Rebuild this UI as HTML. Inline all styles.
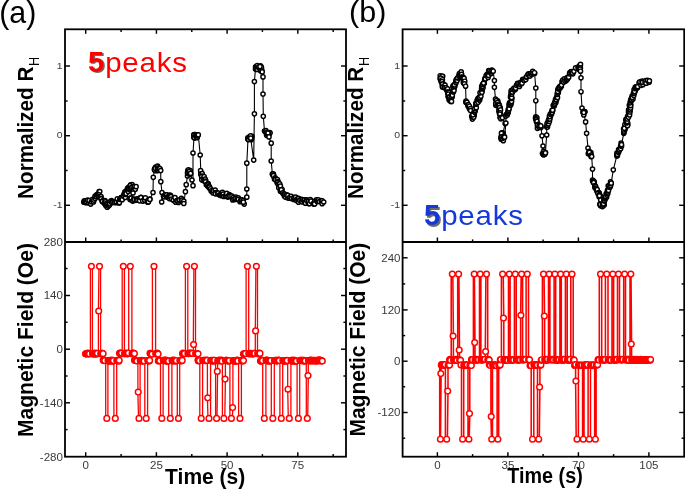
<!DOCTYPE html>
<html><head><meta charset="utf-8"><title>Figure</title>
<style>html,body{margin:0;padding:0;background:#fff}svg{display:block}</style></head>
<body>
<svg width="685" height="489" viewBox="0 0 685 489" font-family='"Liberation Sans", sans-serif'>
<defs><filter id="sh" x="-30%" y="-30%" width="170%" height="170%"><feGaussianBlur stdDeviation="0.7"/></filter></defs>
<rect width="685" height="489" fill="#fff"/>
<path d="M83.8,202.2 L84.3,200.9 L85.5,200.8 L86.1,202.4 L86.0,202.7 L86.8,201.9 L87.6,200.0 L88.9,203.0 L89.1,200.5 L90.7,204.1 L91.4,201.8 L92.8,200.4 L93.2,200.8 L92.6,199.3 L93.5,201.9 L93.9,200.1 L95.2,198.4 L95.5,196.3 L95.1,196.2 L96.5,196.5 L96.3,196.5 L97.0,194.5 L97.9,195.6 L97.5,194.4 L98.3,195.0 L99.1,191.6 L99.8,191.6 L99.1,195.4 L99.0,194.9 L99.1,196.6 L100.6,196.9 L101.0,196.5 L101.0,198.6 L101.1,198.8 L102.3,201.5 L102.5,200.8 L102.5,201.4 L104.2,203.3 L105.0,200.7 L104.8,203.1 L104.7,202.8 L105.4,201.8 L105.7,205.4 L106.3,203.7 L107.2,207.2 L107.2,204.6 L108.5,205.9 L109.5,205.1 L109.1,202.3 L109.8,203.8 L111.5,200.6 L111.0,201.3 L111.8,202.7 L113.1,201.9 L113.0,202.2 L114.4,202.5 L116.1,202.7 L116.2,201.9 L117.3,198.9 L118.4,202.5 L119.1,202.9 L119.1,201.3 L119.4,202.6 L119.8,199.3 L120.5,199.1 L121.2,197.9 L121.2,197.7 L121.9,198.0 L122.2,199.7 L123.6,195.7 L123.5,195.9 L124.1,194.1 L125.3,197.4 L125.1,194.4 L124.9,191.9 L125.7,191.9 L127.0,190.7 L126.1,193.6 L127.3,189.2 L127.8,188.0 L128.2,191.6 L129.2,189.6 L128.6,187.4 L129.1,188.7 L130.4,188.1 L130.7,184.9 L134.9,188.4 L135.1,187.7 L134.9,187.5 L131.4,186.6 L132.1,184.6 L130.2,185.6 L131.6,187.3 L133.0,186.5 L134.5,186.5 L135.3,189.3 L136.1,186.7 L133.0,193.0 L130.0,199.6 L130.4,198.2 L131.1,198.0 L132.6,201.1 L133.7,199.0 L134.2,200.4 L134.2,199.7 L136.3,200.2 L136.9,198.8 L136.8,200.2 L137.9,200.2 L139.7,198.3 L139.6,200.8 L141.0,197.4 L140.9,197.5 L143.0,200.8 L142.7,201.1 L144.9,200.5 L144.8,200.2 L145.3,197.8 L147.5,200.8 L147.7,202.2 L148.4,202.0 L149.9,199.0 L149.9,199.4 L153.0,192.5 L153.3,177.3 L154.5,169.0 L154.8,168.6 L155.6,167.1 L155.3,170.6 L156.6,168.3 L158.0,170.5 L157.0,170.6 L157.5,168.7 L157.6,166.1 L157.1,166.9 L154.5,170.0 L155.5,168.4 L157.5,168.5 L158.7,168.6 L158.9,168.3 L160.1,169.3 L159.5,169.1 L159.8,168.7 L160.7,170.6 L160.8,181.7 L162.0,192.5 L161.7,202.0 L163.5,196.0 L164.2,196.8 L165.4,194.9 L165.6,194.8 L166.0,195.2 L166.6,194.9 L167.3,197.2 L168.3,197.4 L169.4,195.0 L169.4,198.6 L170.5,195.3 L170.2,197.1 L170.9,196.6 L171.7,199.0 L173.7,200.4 L173.4,200.0 L175.0,197.7 L176.1,201.9 L175.8,202.2 L176.8,200.5 L178.5,202.4 L177.9,201.0 L179.3,200.3 L179.6,199.9 L181.4,198.3 L182.0,200.4 L182.0,200.1 L183.8,201.2 L183.8,203.5 L185.4,191.7 L186.2,184.7 L187.5,176.0 L190.2,174.1 L187.8,170.5 L187.5,173.1 L188.4,169.8 L188.9,173.8 L190.3,170.5 L189.2,171.7 L189.3,174.0 L190.6,173.4 L192.0,180.0 L193.0,185.7 L193.0,153.0 L194.0,137.5 L193.9,134.9 L195.4,136.0 L194.9,137.8 L197.3,137.2 L194.2,137.4 L194.1,137.5 L196.2,135.4 L196.8,137.7 L195.2,134.5 L196.7,135.0 L194.3,134.6 L194.0,134.8 L195.4,135.2 L196.5,136.0 L197.6,135.4 L197.8,135.2 L198.3,134.8 L200.2,155.0 L200.8,172.0 L200.6,170.6 L201.5,173.9 L200.8,174.5 L202.2,173.6 L202.2,176.0 L201.8,178.7 L201.8,178.0 L204.3,180.9 L202.9,180.2 L204.3,179.2 L203.1,177.7 L201.7,176.6 L201.8,179.7 L203.5,178.5 L204.1,176.5 L204.1,180.4 L205.7,180.4 L205.1,179.2 L205.4,181.0 L205.5,181.8 L206.3,184.8 L208.1,183.5 L207.6,186.1 L208.0,184.1 L207.9,185.0 L209.0,186.3 L208.9,187.0 L208.9,186.7 L209.3,188.1 L209.6,187.1 L210.4,188.8 L211.1,190.9 L212.3,191.8 L213.1,193.0 L213.4,190.7 L215.2,190.2 L215.6,192.7 L215.4,193.8 L217.6,193.1 L218.2,194.2 L218.1,193.2 L219.5,194.9 L220.8,195.1 L221.3,195.7 L222.3,195.0 L222.4,192.3 L223.1,194.1 L223.8,196.5 L225.3,195.8 L226.2,196.3 L226.7,193.4 L228.0,197.1 L228.2,196.4 L229.3,194.5 L230.2,195.7 L230.0,196.1 L231.9,196.1 L232.7,200.0 L233.2,197.6 L234.0,199.3 L235.3,199.4 L235.9,197.2 L235.9,198.4 L237.7,198.9 L238.3,197.9 L238.3,199.4 L240.0,201.7 L240.8,200.1 L241.3,201.2 L241.9,199.8 L243.3,200.5 L244.2,204.1 L243.4,202.2 L246.8,197.2 L246.8,189.0 L246.8,163.2 L248.0,139.0 L251.3,139.7 L249.4,136.9 L248.2,139.6 L248.3,138.1 L247.9,137.9 L252.0,136.3 L251.3,137.8 L251.6,138.6 L248.4,139.4 L249.7,137.8 L250.6,135.8 L250.7,138.2 L253.7,160.1 L254.4,113.8 L254.4,81.5 L255.5,69.0 L255.8,67.4 L255.6,66.8 L256.3,68.4 L256.1,67.3 L260.5,65.8 L261.1,68.4 L260.9,66.6 L257.7,67.0 L261.5,67.9 L257.7,67.2 L257.2,65.5 L256.1,69.0 L257.2,69.4 L258.5,67.5 L258.8,66.7 L260.0,66.6 L260.5,70.8 L261.9,70.8 L262.2,71.9 L263.0,76.9 L263.0,94.0 L263.3,116.3 L264.5,131.0 L265.7,132.1 L265.9,130.6 L266.4,133.3 L268.9,134.8 L266.5,132.2 L269.7,132.6 L267.5,133.5 L266.6,135.3 L270.0,133.1 L268.4,133.3 L267.9,133.7 L267.6,134.2 L268.0,133.0 L269.0,136.9 L271.2,143.2 L271.2,161.0 L272.4,174.2 L273.5,174.6 L274.7,178.5 L273.3,174.2 L272.6,174.0 L273.0,174.0 L273.5,176.0 L273.5,175.7 L274.5,179.3 L275.2,177.9 L275.2,179.2 L275.6,179.1 L275.5,179.6 L277.4,179.6 L277.1,182.7 L278.1,181.6 L277.6,182.5 L278.2,184.2 L279.5,186.8 L279.7,183.8 L278.7,187.8 L280.5,187.5 L280.4,186.1 L280.4,191.2 L281.5,191.6 L282.1,189.6 L281.3,189.9 L282.6,192.9 L283.9,193.8 L284.0,194.6 L284.4,194.2 L284.4,195.9 L285.3,197.1 L286.6,194.9 L286.5,195.3 L287.9,197.9 L287.9,195.4 L289.4,198.2 L290.0,197.0 L291.2,196.4 L291.6,198.5 L293.5,199.4 L294.2,198.6 L294.1,197.5 L296.0,199.9 L295.7,197.1 L296.7,200.4 L297.4,198.8 L298.5,202.2 L298.6,198.4 L299.6,200.2 L301.0,199.3 L302.0,201.8 L302.3,199.5 L303.9,200.1 L304.5,199.8 L304.4,202.3 L305.4,203.2 L306.6,199.8 L307.0,200.9 L308.6,203.4 L308.6,200.9 L309.5,203.7 L310.3,199.5 L311.0,201.2 L313.2,203.5 L313.8,204.1 L315.0,201.1 L314.6,203.9 L316.4,199.8 L317.2,201.5 L317.6,201.3 L318.2,199.8 L319.2,201.5 L321.2,200.5 L322.1,200.9 L322.1,203.7 L323.7,202.0" fill="none" stroke="#000" stroke-width="1.1" stroke-linejoin="round"/>
<g fill="#fff" stroke="#000" stroke-width="1.45">
<circle cx="83.8" cy="202.2" r="2.1"/>
<circle cx="84.3" cy="200.9" r="2.1"/>
<circle cx="85.5" cy="200.8" r="2.1"/>
<circle cx="86.1" cy="202.4" r="2.1"/>
<circle cx="86.0" cy="202.7" r="2.1"/>
<circle cx="86.8" cy="201.9" r="2.1"/>
<circle cx="87.6" cy="200.0" r="2.1"/>
<circle cx="88.9" cy="203.0" r="2.1"/>
<circle cx="89.1" cy="200.5" r="2.1"/>
<circle cx="90.7" cy="204.1" r="2.1"/>
<circle cx="91.4" cy="201.8" r="2.1"/>
<circle cx="92.8" cy="200.4" r="2.1"/>
<circle cx="93.2" cy="200.8" r="2.1"/>
<circle cx="92.6" cy="199.3" r="2.1"/>
<circle cx="93.5" cy="201.9" r="2.1"/>
<circle cx="93.9" cy="200.1" r="2.1"/>
<circle cx="95.2" cy="198.4" r="2.1"/>
<circle cx="95.5" cy="196.3" r="2.1"/>
<circle cx="95.1" cy="196.2" r="2.1"/>
<circle cx="96.5" cy="196.5" r="2.1"/>
<circle cx="96.3" cy="196.5" r="2.1"/>
<circle cx="97.0" cy="194.5" r="2.1"/>
<circle cx="97.9" cy="195.6" r="2.1"/>
<circle cx="97.5" cy="194.4" r="2.1"/>
<circle cx="98.3" cy="195.0" r="2.1"/>
<circle cx="99.1" cy="191.6" r="2.1"/>
<circle cx="99.8" cy="191.6" r="2.1"/>
<circle cx="99.1" cy="195.4" r="2.1"/>
<circle cx="99.0" cy="194.9" r="2.1"/>
<circle cx="99.1" cy="196.6" r="2.1"/>
<circle cx="100.6" cy="196.9" r="2.1"/>
<circle cx="101.0" cy="196.5" r="2.1"/>
<circle cx="101.0" cy="198.6" r="2.1"/>
<circle cx="101.1" cy="198.8" r="2.1"/>
<circle cx="102.3" cy="201.5" r="2.1"/>
<circle cx="102.5" cy="200.8" r="2.1"/>
<circle cx="102.5" cy="201.4" r="2.1"/>
<circle cx="104.2" cy="203.3" r="2.1"/>
<circle cx="105.0" cy="200.7" r="2.1"/>
<circle cx="104.8" cy="203.1" r="2.1"/>
<circle cx="104.7" cy="202.8" r="2.1"/>
<circle cx="105.4" cy="201.8" r="2.1"/>
<circle cx="105.7" cy="205.4" r="2.1"/>
<circle cx="106.3" cy="203.7" r="2.1"/>
<circle cx="107.2" cy="207.2" r="2.1"/>
<circle cx="107.2" cy="204.6" r="2.1"/>
<circle cx="108.5" cy="205.9" r="2.1"/>
<circle cx="109.5" cy="205.1" r="2.1"/>
<circle cx="109.1" cy="202.3" r="2.1"/>
<circle cx="109.8" cy="203.8" r="2.1"/>
<circle cx="111.5" cy="200.6" r="2.1"/>
<circle cx="111.0" cy="201.3" r="2.1"/>
<circle cx="111.8" cy="202.7" r="2.1"/>
<circle cx="113.1" cy="201.9" r="2.1"/>
<circle cx="113.0" cy="202.2" r="2.1"/>
<circle cx="114.4" cy="202.5" r="2.1"/>
<circle cx="116.1" cy="202.7" r="2.1"/>
<circle cx="116.2" cy="201.9" r="2.1"/>
<circle cx="117.3" cy="198.9" r="2.1"/>
<circle cx="118.4" cy="202.5" r="2.1"/>
<circle cx="119.1" cy="202.9" r="2.1"/>
<circle cx="119.1" cy="201.3" r="2.1"/>
<circle cx="119.4" cy="202.6" r="2.1"/>
<circle cx="119.8" cy="199.3" r="2.1"/>
<circle cx="120.5" cy="199.1" r="2.1"/>
<circle cx="121.2" cy="197.9" r="2.1"/>
<circle cx="121.2" cy="197.7" r="2.1"/>
<circle cx="121.9" cy="198.0" r="2.1"/>
<circle cx="122.2" cy="199.7" r="2.1"/>
<circle cx="123.6" cy="195.7" r="2.1"/>
<circle cx="123.5" cy="195.9" r="2.1"/>
<circle cx="124.1" cy="194.1" r="2.1"/>
<circle cx="125.3" cy="197.4" r="2.1"/>
<circle cx="125.1" cy="194.4" r="2.1"/>
<circle cx="124.9" cy="191.9" r="2.1"/>
<circle cx="125.7" cy="191.9" r="2.1"/>
<circle cx="127.0" cy="190.7" r="2.1"/>
<circle cx="126.1" cy="193.6" r="2.1"/>
<circle cx="127.3" cy="189.2" r="2.1"/>
<circle cx="127.8" cy="188.0" r="2.1"/>
<circle cx="128.2" cy="191.6" r="2.1"/>
<circle cx="129.2" cy="189.6" r="2.1"/>
<circle cx="128.6" cy="187.4" r="2.1"/>
<circle cx="129.1" cy="188.7" r="2.1"/>
<circle cx="130.4" cy="188.1" r="2.1"/>
<circle cx="130.7" cy="184.9" r="2.1"/>
<circle cx="134.9" cy="188.4" r="2.1"/>
<circle cx="135.1" cy="187.7" r="2.1"/>
<circle cx="134.9" cy="187.5" r="2.1"/>
<circle cx="131.4" cy="186.6" r="2.1"/>
<circle cx="132.1" cy="184.6" r="2.1"/>
<circle cx="130.2" cy="185.6" r="2.1"/>
<circle cx="131.6" cy="187.3" r="2.1"/>
<circle cx="133.0" cy="186.5" r="2.1"/>
<circle cx="134.5" cy="186.5" r="2.1"/>
<circle cx="135.3" cy="189.3" r="2.1"/>
<circle cx="136.1" cy="186.7" r="2.1"/>
<circle cx="133.0" cy="193.0" r="2.1"/>
<circle cx="130.0" cy="199.6" r="2.1"/>
<circle cx="130.4" cy="198.2" r="2.1"/>
<circle cx="131.1" cy="198.0" r="2.1"/>
<circle cx="132.6" cy="201.1" r="2.1"/>
<circle cx="133.7" cy="199.0" r="2.1"/>
<circle cx="134.2" cy="200.4" r="2.1"/>
<circle cx="134.2" cy="199.7" r="2.1"/>
<circle cx="136.3" cy="200.2" r="2.1"/>
<circle cx="136.9" cy="198.8" r="2.1"/>
<circle cx="136.8" cy="200.2" r="2.1"/>
<circle cx="137.9" cy="200.2" r="2.1"/>
<circle cx="139.7" cy="198.3" r="2.1"/>
<circle cx="139.6" cy="200.8" r="2.1"/>
<circle cx="141.0" cy="197.4" r="2.1"/>
<circle cx="140.9" cy="197.5" r="2.1"/>
<circle cx="143.0" cy="200.8" r="2.1"/>
<circle cx="142.7" cy="201.1" r="2.1"/>
<circle cx="144.9" cy="200.5" r="2.1"/>
<circle cx="144.8" cy="200.2" r="2.1"/>
<circle cx="145.3" cy="197.8" r="2.1"/>
<circle cx="147.5" cy="200.8" r="2.1"/>
<circle cx="147.7" cy="202.2" r="2.1"/>
<circle cx="148.4" cy="202.0" r="2.1"/>
<circle cx="149.9" cy="199.0" r="2.1"/>
<circle cx="149.9" cy="199.4" r="2.1"/>
<circle cx="153.0" cy="192.5" r="2.1"/>
<circle cx="153.3" cy="177.3" r="2.1"/>
<circle cx="154.5" cy="169.0" r="2.1"/>
<circle cx="154.8" cy="168.6" r="2.1"/>
<circle cx="155.6" cy="167.1" r="2.1"/>
<circle cx="155.3" cy="170.6" r="2.1"/>
<circle cx="156.6" cy="168.3" r="2.1"/>
<circle cx="158.0" cy="170.5" r="2.1"/>
<circle cx="157.0" cy="170.6" r="2.1"/>
<circle cx="157.5" cy="168.7" r="2.1"/>
<circle cx="157.6" cy="166.1" r="2.1"/>
<circle cx="157.1" cy="166.9" r="2.1"/>
<circle cx="154.5" cy="170.0" r="2.1"/>
<circle cx="155.5" cy="168.4" r="2.1"/>
<circle cx="157.5" cy="168.5" r="2.1"/>
<circle cx="158.7" cy="168.6" r="2.1"/>
<circle cx="158.9" cy="168.3" r="2.1"/>
<circle cx="160.1" cy="169.3" r="2.1"/>
<circle cx="159.5" cy="169.1" r="2.1"/>
<circle cx="159.8" cy="168.7" r="2.1"/>
<circle cx="160.7" cy="170.6" r="2.1"/>
<circle cx="160.8" cy="181.7" r="2.1"/>
<circle cx="162.0" cy="192.5" r="2.1"/>
<circle cx="161.7" cy="202.0" r="2.1"/>
<circle cx="163.5" cy="196.0" r="2.1"/>
<circle cx="164.2" cy="196.8" r="2.1"/>
<circle cx="165.4" cy="194.9" r="2.1"/>
<circle cx="165.6" cy="194.8" r="2.1"/>
<circle cx="166.0" cy="195.2" r="2.1"/>
<circle cx="166.6" cy="194.9" r="2.1"/>
<circle cx="167.3" cy="197.2" r="2.1"/>
<circle cx="168.3" cy="197.4" r="2.1"/>
<circle cx="169.4" cy="195.0" r="2.1"/>
<circle cx="169.4" cy="198.6" r="2.1"/>
<circle cx="170.5" cy="195.3" r="2.1"/>
<circle cx="170.2" cy="197.1" r="2.1"/>
<circle cx="170.9" cy="196.6" r="2.1"/>
<circle cx="171.7" cy="199.0" r="2.1"/>
<circle cx="173.7" cy="200.4" r="2.1"/>
<circle cx="173.4" cy="200.0" r="2.1"/>
<circle cx="175.0" cy="197.7" r="2.1"/>
<circle cx="176.1" cy="201.9" r="2.1"/>
<circle cx="175.8" cy="202.2" r="2.1"/>
<circle cx="176.8" cy="200.5" r="2.1"/>
<circle cx="178.5" cy="202.4" r="2.1"/>
<circle cx="177.9" cy="201.0" r="2.1"/>
<circle cx="179.3" cy="200.3" r="2.1"/>
<circle cx="179.6" cy="199.9" r="2.1"/>
<circle cx="181.4" cy="198.3" r="2.1"/>
<circle cx="182.0" cy="200.4" r="2.1"/>
<circle cx="182.0" cy="200.1" r="2.1"/>
<circle cx="183.8" cy="201.2" r="2.1"/>
<circle cx="183.8" cy="203.5" r="2.1"/>
<circle cx="185.4" cy="191.7" r="2.1"/>
<circle cx="186.2" cy="184.7" r="2.1"/>
<circle cx="187.5" cy="176.0" r="2.1"/>
<circle cx="190.2" cy="174.1" r="2.1"/>
<circle cx="187.8" cy="170.5" r="2.1"/>
<circle cx="187.5" cy="173.1" r="2.1"/>
<circle cx="188.4" cy="169.8" r="2.1"/>
<circle cx="188.9" cy="173.8" r="2.1"/>
<circle cx="190.3" cy="170.5" r="2.1"/>
<circle cx="189.2" cy="171.7" r="2.1"/>
<circle cx="189.3" cy="174.0" r="2.1"/>
<circle cx="190.6" cy="173.4" r="2.1"/>
<circle cx="192.0" cy="180.0" r="2.1"/>
<circle cx="193.0" cy="185.7" r="2.1"/>
<circle cx="193.0" cy="153.0" r="2.1"/>
<circle cx="194.0" cy="137.5" r="2.1"/>
<circle cx="193.9" cy="134.9" r="2.1"/>
<circle cx="195.4" cy="136.0" r="2.1"/>
<circle cx="194.9" cy="137.8" r="2.1"/>
<circle cx="197.3" cy="137.2" r="2.1"/>
<circle cx="194.2" cy="137.4" r="2.1"/>
<circle cx="194.1" cy="137.5" r="2.1"/>
<circle cx="196.2" cy="135.4" r="2.1"/>
<circle cx="196.8" cy="137.7" r="2.1"/>
<circle cx="195.2" cy="134.5" r="2.1"/>
<circle cx="196.7" cy="135.0" r="2.1"/>
<circle cx="194.3" cy="134.6" r="2.1"/>
<circle cx="194.0" cy="134.8" r="2.1"/>
<circle cx="195.4" cy="135.2" r="2.1"/>
<circle cx="196.5" cy="136.0" r="2.1"/>
<circle cx="197.6" cy="135.4" r="2.1"/>
<circle cx="197.8" cy="135.2" r="2.1"/>
<circle cx="198.3" cy="134.8" r="2.1"/>
<circle cx="200.2" cy="155.0" r="2.1"/>
<circle cx="200.8" cy="172.0" r="2.1"/>
<circle cx="200.6" cy="170.6" r="2.1"/>
<circle cx="201.5" cy="173.9" r="2.1"/>
<circle cx="200.8" cy="174.5" r="2.1"/>
<circle cx="202.2" cy="173.6" r="2.1"/>
<circle cx="202.2" cy="176.0" r="2.1"/>
<circle cx="201.8" cy="178.7" r="2.1"/>
<circle cx="201.8" cy="178.0" r="2.1"/>
<circle cx="204.3" cy="180.9" r="2.1"/>
<circle cx="202.9" cy="180.2" r="2.1"/>
<circle cx="204.3" cy="179.2" r="2.1"/>
<circle cx="203.1" cy="177.7" r="2.1"/>
<circle cx="201.7" cy="176.6" r="2.1"/>
<circle cx="201.8" cy="179.7" r="2.1"/>
<circle cx="203.5" cy="178.5" r="2.1"/>
<circle cx="204.1" cy="176.5" r="2.1"/>
<circle cx="204.1" cy="180.4" r="2.1"/>
<circle cx="205.7" cy="180.4" r="2.1"/>
<circle cx="205.1" cy="179.2" r="2.1"/>
<circle cx="205.4" cy="181.0" r="2.1"/>
<circle cx="205.5" cy="181.8" r="2.1"/>
<circle cx="206.3" cy="184.8" r="2.1"/>
<circle cx="208.1" cy="183.5" r="2.1"/>
<circle cx="207.6" cy="186.1" r="2.1"/>
<circle cx="208.0" cy="184.1" r="2.1"/>
<circle cx="207.9" cy="185.0" r="2.1"/>
<circle cx="209.0" cy="186.3" r="2.1"/>
<circle cx="208.9" cy="187.0" r="2.1"/>
<circle cx="208.9" cy="186.7" r="2.1"/>
<circle cx="209.3" cy="188.1" r="2.1"/>
<circle cx="209.6" cy="187.1" r="2.1"/>
<circle cx="210.4" cy="188.8" r="2.1"/>
<circle cx="211.1" cy="190.9" r="2.1"/>
<circle cx="212.3" cy="191.8" r="2.1"/>
<circle cx="213.1" cy="193.0" r="2.1"/>
<circle cx="213.4" cy="190.7" r="2.1"/>
<circle cx="215.2" cy="190.2" r="2.1"/>
<circle cx="215.6" cy="192.7" r="2.1"/>
<circle cx="215.4" cy="193.8" r="2.1"/>
<circle cx="217.6" cy="193.1" r="2.1"/>
<circle cx="218.2" cy="194.2" r="2.1"/>
<circle cx="218.1" cy="193.2" r="2.1"/>
<circle cx="219.5" cy="194.9" r="2.1"/>
<circle cx="220.8" cy="195.1" r="2.1"/>
<circle cx="221.3" cy="195.7" r="2.1"/>
<circle cx="222.3" cy="195.0" r="2.1"/>
<circle cx="222.4" cy="192.3" r="2.1"/>
<circle cx="223.1" cy="194.1" r="2.1"/>
<circle cx="223.8" cy="196.5" r="2.1"/>
<circle cx="225.3" cy="195.8" r="2.1"/>
<circle cx="226.2" cy="196.3" r="2.1"/>
<circle cx="226.7" cy="193.4" r="2.1"/>
<circle cx="228.0" cy="197.1" r="2.1"/>
<circle cx="228.2" cy="196.4" r="2.1"/>
<circle cx="229.3" cy="194.5" r="2.1"/>
<circle cx="230.2" cy="195.7" r="2.1"/>
<circle cx="230.0" cy="196.1" r="2.1"/>
<circle cx="231.9" cy="196.1" r="2.1"/>
<circle cx="232.7" cy="200.0" r="2.1"/>
<circle cx="233.2" cy="197.6" r="2.1"/>
<circle cx="234.0" cy="199.3" r="2.1"/>
<circle cx="235.3" cy="199.4" r="2.1"/>
<circle cx="235.9" cy="197.2" r="2.1"/>
<circle cx="235.9" cy="198.4" r="2.1"/>
<circle cx="237.7" cy="198.9" r="2.1"/>
<circle cx="238.3" cy="197.9" r="2.1"/>
<circle cx="238.3" cy="199.4" r="2.1"/>
<circle cx="240.0" cy="201.7" r="2.1"/>
<circle cx="240.8" cy="200.1" r="2.1"/>
<circle cx="241.3" cy="201.2" r="2.1"/>
<circle cx="241.9" cy="199.8" r="2.1"/>
<circle cx="243.3" cy="200.5" r="2.1"/>
<circle cx="244.2" cy="204.1" r="2.1"/>
<circle cx="243.4" cy="202.2" r="2.1"/>
<circle cx="246.8" cy="197.2" r="2.1"/>
<circle cx="246.8" cy="189.0" r="2.1"/>
<circle cx="246.8" cy="163.2" r="2.1"/>
<circle cx="248.0" cy="139.0" r="2.1"/>
<circle cx="251.3" cy="139.7" r="2.1"/>
<circle cx="249.4" cy="136.9" r="2.1"/>
<circle cx="248.2" cy="139.6" r="2.1"/>
<circle cx="248.3" cy="138.1" r="2.1"/>
<circle cx="247.9" cy="137.9" r="2.1"/>
<circle cx="252.0" cy="136.3" r="2.1"/>
<circle cx="251.3" cy="137.8" r="2.1"/>
<circle cx="251.6" cy="138.6" r="2.1"/>
<circle cx="248.4" cy="139.4" r="2.1"/>
<circle cx="249.7" cy="137.8" r="2.1"/>
<circle cx="250.6" cy="135.8" r="2.1"/>
<circle cx="250.7" cy="138.2" r="2.1"/>
<circle cx="253.7" cy="160.1" r="2.1"/>
<circle cx="254.4" cy="113.8" r="2.1"/>
<circle cx="254.4" cy="81.5" r="2.1"/>
<circle cx="255.5" cy="69.0" r="2.1"/>
<circle cx="255.8" cy="67.4" r="2.1"/>
<circle cx="255.6" cy="66.8" r="2.1"/>
<circle cx="256.3" cy="68.4" r="2.1"/>
<circle cx="256.1" cy="67.3" r="2.1"/>
<circle cx="260.5" cy="65.8" r="2.1"/>
<circle cx="261.1" cy="68.4" r="2.1"/>
<circle cx="260.9" cy="66.6" r="2.1"/>
<circle cx="257.7" cy="67.0" r="2.1"/>
<circle cx="261.5" cy="67.9" r="2.1"/>
<circle cx="257.7" cy="67.2" r="2.1"/>
<circle cx="257.2" cy="65.5" r="2.1"/>
<circle cx="256.1" cy="69.0" r="2.1"/>
<circle cx="257.2" cy="69.4" r="2.1"/>
<circle cx="258.5" cy="67.5" r="2.1"/>
<circle cx="258.8" cy="66.7" r="2.1"/>
<circle cx="260.0" cy="66.6" r="2.1"/>
<circle cx="260.5" cy="70.8" r="2.1"/>
<circle cx="261.9" cy="70.8" r="2.1"/>
<circle cx="262.2" cy="71.9" r="2.1"/>
<circle cx="263.0" cy="76.9" r="2.1"/>
<circle cx="263.0" cy="94.0" r="2.1"/>
<circle cx="263.3" cy="116.3" r="2.1"/>
<circle cx="264.5" cy="131.0" r="2.1"/>
<circle cx="265.7" cy="132.1" r="2.1"/>
<circle cx="265.9" cy="130.6" r="2.1"/>
<circle cx="266.4" cy="133.3" r="2.1"/>
<circle cx="268.9" cy="134.8" r="2.1"/>
<circle cx="266.5" cy="132.2" r="2.1"/>
<circle cx="269.7" cy="132.6" r="2.1"/>
<circle cx="267.5" cy="133.5" r="2.1"/>
<circle cx="266.6" cy="135.3" r="2.1"/>
<circle cx="270.0" cy="133.1" r="2.1"/>
<circle cx="268.4" cy="133.3" r="2.1"/>
<circle cx="267.9" cy="133.7" r="2.1"/>
<circle cx="267.6" cy="134.2" r="2.1"/>
<circle cx="268.0" cy="133.0" r="2.1"/>
<circle cx="269.0" cy="136.9" r="2.1"/>
<circle cx="271.2" cy="143.2" r="2.1"/>
<circle cx="271.2" cy="161.0" r="2.1"/>
<circle cx="272.4" cy="174.2" r="2.1"/>
<circle cx="273.5" cy="174.6" r="2.1"/>
<circle cx="274.7" cy="178.5" r="2.1"/>
<circle cx="273.3" cy="174.2" r="2.1"/>
<circle cx="272.6" cy="174.0" r="2.1"/>
<circle cx="273.0" cy="174.0" r="2.1"/>
<circle cx="273.5" cy="176.0" r="2.1"/>
<circle cx="273.5" cy="175.7" r="2.1"/>
<circle cx="274.5" cy="179.3" r="2.1"/>
<circle cx="275.2" cy="177.9" r="2.1"/>
<circle cx="275.2" cy="179.2" r="2.1"/>
<circle cx="275.6" cy="179.1" r="2.1"/>
<circle cx="275.5" cy="179.6" r="2.1"/>
<circle cx="277.4" cy="179.6" r="2.1"/>
<circle cx="277.1" cy="182.7" r="2.1"/>
<circle cx="278.1" cy="181.6" r="2.1"/>
<circle cx="277.6" cy="182.5" r="2.1"/>
<circle cx="278.2" cy="184.2" r="2.1"/>
<circle cx="279.5" cy="186.8" r="2.1"/>
<circle cx="279.7" cy="183.8" r="2.1"/>
<circle cx="278.7" cy="187.8" r="2.1"/>
<circle cx="280.5" cy="187.5" r="2.1"/>
<circle cx="280.4" cy="186.1" r="2.1"/>
<circle cx="280.4" cy="191.2" r="2.1"/>
<circle cx="281.5" cy="191.6" r="2.1"/>
<circle cx="282.1" cy="189.6" r="2.1"/>
<circle cx="281.3" cy="189.9" r="2.1"/>
<circle cx="282.6" cy="192.9" r="2.1"/>
<circle cx="283.9" cy="193.8" r="2.1"/>
<circle cx="284.0" cy="194.6" r="2.1"/>
<circle cx="284.4" cy="194.2" r="2.1"/>
<circle cx="284.4" cy="195.9" r="2.1"/>
<circle cx="285.3" cy="197.1" r="2.1"/>
<circle cx="286.6" cy="194.9" r="2.1"/>
<circle cx="286.5" cy="195.3" r="2.1"/>
<circle cx="287.9" cy="197.9" r="2.1"/>
<circle cx="287.9" cy="195.4" r="2.1"/>
<circle cx="289.4" cy="198.2" r="2.1"/>
<circle cx="290.0" cy="197.0" r="2.1"/>
<circle cx="291.2" cy="196.4" r="2.1"/>
<circle cx="291.6" cy="198.5" r="2.1"/>
<circle cx="293.5" cy="199.4" r="2.1"/>
<circle cx="294.2" cy="198.6" r="2.1"/>
<circle cx="294.1" cy="197.5" r="2.1"/>
<circle cx="296.0" cy="199.9" r="2.1"/>
<circle cx="295.7" cy="197.1" r="2.1"/>
<circle cx="296.7" cy="200.4" r="2.1"/>
<circle cx="297.4" cy="198.8" r="2.1"/>
<circle cx="298.5" cy="202.2" r="2.1"/>
<circle cx="298.6" cy="198.4" r="2.1"/>
<circle cx="299.6" cy="200.2" r="2.1"/>
<circle cx="301.0" cy="199.3" r="2.1"/>
<circle cx="302.0" cy="201.8" r="2.1"/>
<circle cx="302.3" cy="199.5" r="2.1"/>
<circle cx="303.9" cy="200.1" r="2.1"/>
<circle cx="304.5" cy="199.8" r="2.1"/>
<circle cx="304.4" cy="202.3" r="2.1"/>
<circle cx="305.4" cy="203.2" r="2.1"/>
<circle cx="306.6" cy="199.8" r="2.1"/>
<circle cx="307.0" cy="200.9" r="2.1"/>
<circle cx="308.6" cy="203.4" r="2.1"/>
<circle cx="308.6" cy="200.9" r="2.1"/>
<circle cx="309.5" cy="203.7" r="2.1"/>
<circle cx="310.3" cy="199.5" r="2.1"/>
<circle cx="311.0" cy="201.2" r="2.1"/>
<circle cx="313.2" cy="203.5" r="2.1"/>
<circle cx="313.8" cy="204.1" r="2.1"/>
<circle cx="315.0" cy="201.1" r="2.1"/>
<circle cx="314.6" cy="203.9" r="2.1"/>
<circle cx="316.4" cy="199.8" r="2.1"/>
<circle cx="317.2" cy="201.5" r="2.1"/>
<circle cx="317.6" cy="201.3" r="2.1"/>
<circle cx="318.2" cy="199.8" r="2.1"/>
<circle cx="319.2" cy="201.5" r="2.1"/>
<circle cx="321.2" cy="200.5" r="2.1"/>
<circle cx="322.1" cy="200.9" r="2.1"/>
<circle cx="322.1" cy="203.7" r="2.1"/>
<circle cx="323.7" cy="202.0" r="2.1"/>
</g>
<path d="M440.2,75.8 L440.1,78.8 L441.1,81.5 L440.6,78.2 L442.7,76.2 L441.2,80.9 L442.3,76.2 L441.5,79.0 L440.8,78.0 L442.4,79.7 L442.4,83.5 L442.0,81.5 L443.2,83.9 L442.3,85.2 L442.6,84.1 L442.4,87.1 L444.1,87.4 L445.0,85.0 L444.7,87.5 L446.7,90.1 L446.1,87.7 L446.5,89.6 L447.6,88.9 L447.7,92.3 L448.0,93.3 L447.9,92.0 L447.7,92.9 L448.8,92.4 L448.1,96.3 L448.4,94.0 L448.4,97.0 L449.1,99.8 L450.2,100.6 L449.5,97.2 L449.5,99.9 L450.8,100.5 L450.3,101.1 L451.1,101.5 L451.5,101.4 L451.5,97.2 L452.0,97.2 L451.7,96.7 L452.2,95.0 L451.6,94.4 L451.6,96.5 L452.4,93.1 L452.3,95.3 L452.7,90.9 L453.4,92.0 L453.9,88.6 L453.2,91.0 L454.0,90.6 L452.9,86.8 L453.2,85.5 L454.8,86.4 L454.9,84.6 L455.0,84.1 L454.5,84.9 L456.1,81.1 L456.1,82.7 L456.0,80.8 L456.4,79.4 L457.1,80.5 L458.2,77.9 L457.6,77.7 L459.1,76.2 L458.9,75.5 L460.2,76.3 L459.4,73.5 L460.4,74.8 L461.2,71.9 L460.8,75.4 L461.6,74.3 L461.8,78.1 L462.1,77.1 L462.6,77.1 L463.7,80.5 L463.3,77.6 L464.1,78.4 L463.3,82.4 L464.2,82.7 L464.4,83.8 L464.8,81.2 L464.4,83.8 L465.6,86.2 L466.0,101.0 L465.8,102.3 L466.8,102.5 L466.9,102.3 L468.0,106.0 L467.7,104.8 L469.1,107.9 L468.4,104.9 L469.9,109.6 L469.4,106.2 L470.4,108.6 L470.6,110.6 L474.1,115.0 L473.9,115.3 L472.4,119.1 L474.1,115.1 L471.7,116.4 L472.9,116.3 L472.8,117.0 L472.5,115.0 L473.7,117.2 L472.9,114.8 L474.3,111.5 L474.8,111.1 L474.7,112.2 L474.9,110.3 L474.8,110.8 L475.0,110.3 L475.2,108.5 L474.7,108.5 L475.7,106.0 L476.3,107.7 L476.0,104.1 L476.3,103.0 L475.9,103.7 L476.2,103.0 L477.1,100.4 L477.7,99.8 L478.1,102.3 L478.1,98.2 L478.4,98.9 L479.4,97.1 L479.6,100.3 L479.7,98.7 L479.1,98.7 L479.9,97.8 L480.8,93.4 L480.9,96.2 L480.0,92.8 L481.4,91.1 L482.0,90.9 L482.1,89.5 L481.9,92.3 L481.6,88.4 L482.3,87.8 L481.7,86.2 L482.1,88.8 L483.1,87.7 L482.5,86.3 L482.6,84.3 L483.7,82.7 L484.3,82.7 L484.1,83.4 L483.6,83.0 L484.7,79.4 L485.2,78.0 L485.8,78.6 L485.3,78.8 L486.1,75.5 L487.1,74.3 L487.8,74.7 L488.1,77.4 L488.6,75.4 L488.7,71.7 L488.7,70.6 L491.6,71.7 L491.1,73.6 L489.2,70.9 L491.8,70.1 L491.0,72.0 L491.1,70.9 L492.1,70.5 L493.2,71.2 L494.4,80.6 L494.4,87.3 L495.5,99.0 L497.7,100.9 L497.8,102.5 L495.8,105.3 L496.3,100.6 L495.7,103.5 L498.8,104.4 L497.3,102.7 L497.6,102.3 L497.4,104.8 L498.6,104.2 L499.2,105.3 L500.1,107.4 L499.4,108.9 L499.1,108.0 L499.6,107.6 L499.1,111.0 L499.0,110.8 L500.5,109.9 L499.3,112.9 L499.8,114.0 L500.3,112.7 L499.9,114.0 L500.0,117.5 L501.6,117.5 L500.8,118.8 L502.4,117.8 L505.1,123.5 L503.0,133.0 L503.0,133.6 L501.8,132.8 L501.4,133.3 L501.1,137.3 L501.3,138.6 L503.1,137.3 L502.4,138.2 L503.5,138.6 L501.2,139.2 L504.2,137.1 L503.9,136.1 L501.1,137.2 L503.3,140.7 L502.2,138.5 L503.5,137.5 L504.6,137.2 L505.9,123.0 L505.9,115.0 L505.9,116.1 L506.8,114.4 L507.3,115.0 L507.3,113.6 L508.1,112.9 L508.0,111.6 L508.6,108.9 L508.4,109.6 L508.6,110.2 L509.0,105.4 L509.1,108.8 L509.7,104.4 L509.3,103.2 L510.5,105.1 L510.7,104.9 L509.8,103.4 L510.4,103.6 L511.2,103.1 L510.2,102.1 L511.6,101.6 L510.4,97.3 L510.6,95.6 L511.9,98.4 L511.6,97.5 L511.7,94.2 L511.0,92.5 L512.2,92.1 L511.6,92.2 L511.2,90.6 L512.2,92.1 L512.9,89.6 L514.4,89.8 L514.8,89.7 L514.0,88.1 L515.2,89.2 L515.6,88.2 L516.5,85.3 L517.6,84.1 L518.2,83.9 L517.5,83.4 L519.4,86.4 L518.9,83.6 L520.3,84.4 L520.5,82.4 L521.4,83.3 L522.0,83.2 L522.7,79.3 L523.9,80.0 L523.6,80.1 L524.2,80.2 L525.8,79.6 L526.3,77.1 L526.6,76.7 L528.0,74.7 L528.6,73.8 L528.2,74.4 L530.0,74.9 L529.9,76.1 L530.4,73.6 L531.6,74.4 L532.6,73.4 L532.7,71.4 L533.0,73.2 L534.6,73.4 L534.5,72.7 L535.8,88.0 L535.8,100.7 L535.8,116.7 L536.4,117.9 L535.5,118.1 L536.9,117.9 L535.9,118.9 L536.9,122.2 L536.1,119.8 L536.4,121.4 L537.0,121.4 L538.3,124.4 L540.9,127.1 L537.4,128.3 L537.4,125.4 L540.9,127.5 L539.9,125.7 L539.0,126.0 L539.2,127.3 L539.7,126.0 L540.8,125.9 L542.0,135.8 L543.0,146.0 L543.5,154.7 L544.7,153.0 L544.4,152.8 L542.5,153.6 L543.5,154.4 L545.5,152.6 L544.2,154.5 L543.6,151.4 L543.9,153.0 L544.8,154.2 L545.4,152.9 L546.7,135.0 L546.7,127.0 L547.5,127.0 L547.5,125.1 L547.2,125.1 L547.1,123.3 L548.5,123.8 L548.5,120.8 L548.4,120.9 L549.0,119.8 L549.4,121.4 L548.9,119.3 L550.1,117.2 L549.9,119.1 L549.4,116.3 L549.9,116.6 L551.4,114.6 L550.3,114.0 L551.3,113.8 L551.5,112.6 L552.4,111.3 L552.1,112.5 L552.1,110.4 L552.7,110.0 L552.6,110.2 L553.4,105.2 L553.6,105.9 L553.5,105.2 L554.4,105.7 L554.5,102.9 L554.5,104.3 L555.9,102.5 L555.0,103.0 L555.5,99.5 L555.3,101.3 L556.6,99.8 L556.3,98.7 L556.1,99.7 L556.5,97.4 L557.5,97.5 L557.2,94.3 L557.5,92.7 L558.2,93.0 L558.4,91.8 L557.8,90.9 L558.1,89.8 L557.7,91.5 L558.3,88.5 L558.6,88.8 L559.0,88.7 L559.5,86.7 L560.2,88.1 L559.4,87.3 L561.3,86.4 L560.6,86.0 L562.0,81.5 L561.5,85.1 L563.1,81.2 L562.8,80.0 L563.6,82.3 L564.3,78.8 L565.7,81.1 L565.0,80.9 L566.3,79.8 L566.9,79.7 L567.6,78.8 L567.2,77.5 L568.2,77.1 L568.7,77.2 L569.6,73.8 L569.7,72.7 L570.8,71.7 L571.4,71.6 L572.1,72.7 L572.8,73.8 L572.6,73.1 L573.9,71.3 L578.8,68.9 L577.4,67.2 L580.3,65.8 L578.7,68.0 L575.6,67.9 L578.0,67.5 L578.9,68.9 L578.9,68.4 L579.7,65.5 L580.5,64.3 L580.4,67.9 L579.9,69.9 L580.1,69.0 L580.5,71.2 L581.0,77.8 L581.0,91.7 L582.0,108.0 L582.9,112.2 L583.6,112.8 L584.8,111.5 L584.8,112.0 L583.8,111.4 L583.8,114.9 L583.8,112.5 L585.6,121.9 L586.6,133.3 L588.0,148.0 L590.2,154.2 L589.2,151.3 L589.1,152.9 L590.1,154.1 L588.3,153.7 L590.9,152.7 L589.7,152.4 L589.2,152.2 L589.4,152.4 L591.2,155.1 L591.0,156.6 L591.7,156.5 L592.5,169.1 L592.5,180.2 L593.0,181.5 L593.4,182.2 L593.6,181.1 L593.9,183.0 L594.3,182.1 L593.7,182.6 L594.9,187.4 L595.0,185.6 L595.5,188.3 L595.6,186.6 L595.8,188.1 L596.3,188.8 L597.4,191.9 L597.0,190.9 L597.2,189.7 L598.7,192.6 L599.1,192.8 L597.9,193.4 L599.1,196.7 L600.0,195.4 L599.3,194.5 L600.0,195.9 L599.4,195.8 L599.9,204.1 L600.6,205.8 L600.4,205.2 L600.7,200.1 L604.2,201.5 L604.3,201.1 L600.2,204.6 L604.2,205.1 L604.3,200.5 L603.7,204.3 L602.9,203.0 L602.8,205.7 L602.5,206.6 L603.2,203.0 L602.4,205.1 L603.9,201.7 L603.4,203.9 L603.4,203.8 L604.2,199.3 L604.3,200.9 L604.6,200.6 L604.4,200.4 L605.0,198.9 L605.7,197.1 L605.5,198.0 L606.6,197.2 L606.2,194.2 L605.6,196.5 L606.9,195.1 L606.5,193.3 L607.8,193.5 L607.5,190.3 L607.6,192.1 L607.8,190.4 L608.5,190.5 L609.2,186.8 L608.2,185.9 L609.1,186.6 L610.0,187.2 L609.1,186.1 L610.6,185.4 L610.5,181.9 L611.2,183.5 L611.2,183.2 L613.3,169.8 L616.8,155.9 L616.9,153.1 L617.5,155.6 L617.3,154.5 L618.7,151.3 L618.5,152.5 L618.6,149.5 L618.6,151.2 L619.8,149.0 L619.1,149.9 L620.6,146.4 L620.6,148.7 L621.5,146.2 L621.2,145.8 L621.1,143.2 L621.5,144.7 L623.8,133.3 L623.7,132.8 L623.9,131.8 L623.6,128.8 L625.1,129.5 L623.8,129.9 L625.1,126.9 L624.9,126.9 L624.9,124.6 L624.3,128.3 L627.6,122.8 L626.7,121.5 L627.3,122.5 L627.8,124.5 L627.5,125.7 L625.8,120.1 L626.5,122.9 L626.2,120.6 L626.2,119.1 L627.2,122.0 L627.2,121.5 L628.1,116.6 L627.8,117.3 L627.2,119.0 L627.6,116.4 L628.5,117.3 L628.7,113.9 L628.5,111.9 L629.6,114.9 L628.6,109.7 L628.8,110.3 L630.0,112.0 L630.1,107.3 L630.1,109.5 L630.1,109.9 L629.3,105.2 L630.6,108.1 L630.7,104.3 L630.7,105.6 L630.1,102.8 L630.5,101.0 L631.0,100.4 L630.8,99.5 L631.7,98.1 L632.0,98.1 L631.2,100.7 L631.7,99.9 L633.0,98.9 L632.1,96.1 L632.3,97.5 L633.8,95.4 L633.4,93.3 L634.4,93.1 L634.4,90.7 L634.1,89.5 L635.2,90.9 L634.6,91.6 L635.2,88.6 L635.3,87.1 L636.9,86.8 L636.4,86.8 L637.1,88.0 L637.3,87.7 L637.7,86.7 L639.2,82.8 L639.4,82.5 L639.9,81.9 L641.0,85.3 L642.9,84.7 L642.4,81.5 L648.2,81.2 L646.8,81.9 L648.8,81.0 L647.5,82.0 L642.1,81.0 L647.7,82.6 L642.5,82.3 L648.3,81.7 L645.0,82.5 L645.9,80.6 L646.0,83.2 L647.7,80.7 L647.5,80.3 L649.1,82.2 L649.4,80.9" fill="none" stroke="#000" stroke-width="1.1" stroke-linejoin="round"/>
<g fill="#fff" stroke="#000" stroke-width="1.45">
<circle cx="440.2" cy="75.8" r="2.1"/>
<circle cx="440.1" cy="78.8" r="2.1"/>
<circle cx="441.1" cy="81.5" r="2.1"/>
<circle cx="440.6" cy="78.2" r="2.1"/>
<circle cx="442.7" cy="76.2" r="2.1"/>
<circle cx="441.2" cy="80.9" r="2.1"/>
<circle cx="442.3" cy="76.2" r="2.1"/>
<circle cx="441.5" cy="79.0" r="2.1"/>
<circle cx="440.8" cy="78.0" r="2.1"/>
<circle cx="442.4" cy="79.7" r="2.1"/>
<circle cx="442.4" cy="83.5" r="2.1"/>
<circle cx="442.0" cy="81.5" r="2.1"/>
<circle cx="443.2" cy="83.9" r="2.1"/>
<circle cx="442.3" cy="85.2" r="2.1"/>
<circle cx="442.6" cy="84.1" r="2.1"/>
<circle cx="442.4" cy="87.1" r="2.1"/>
<circle cx="444.1" cy="87.4" r="2.1"/>
<circle cx="445.0" cy="85.0" r="2.1"/>
<circle cx="444.7" cy="87.5" r="2.1"/>
<circle cx="446.7" cy="90.1" r="2.1"/>
<circle cx="446.1" cy="87.7" r="2.1"/>
<circle cx="446.5" cy="89.6" r="2.1"/>
<circle cx="447.6" cy="88.9" r="2.1"/>
<circle cx="447.7" cy="92.3" r="2.1"/>
<circle cx="448.0" cy="93.3" r="2.1"/>
<circle cx="447.9" cy="92.0" r="2.1"/>
<circle cx="447.7" cy="92.9" r="2.1"/>
<circle cx="448.8" cy="92.4" r="2.1"/>
<circle cx="448.1" cy="96.3" r="2.1"/>
<circle cx="448.4" cy="94.0" r="2.1"/>
<circle cx="448.4" cy="97.0" r="2.1"/>
<circle cx="449.1" cy="99.8" r="2.1"/>
<circle cx="450.2" cy="100.6" r="2.1"/>
<circle cx="449.5" cy="97.2" r="2.1"/>
<circle cx="449.5" cy="99.9" r="2.1"/>
<circle cx="450.8" cy="100.5" r="2.1"/>
<circle cx="450.3" cy="101.1" r="2.1"/>
<circle cx="451.1" cy="101.5" r="2.1"/>
<circle cx="451.5" cy="101.4" r="2.1"/>
<circle cx="451.5" cy="97.2" r="2.1"/>
<circle cx="452.0" cy="97.2" r="2.1"/>
<circle cx="451.7" cy="96.7" r="2.1"/>
<circle cx="452.2" cy="95.0" r="2.1"/>
<circle cx="451.6" cy="94.4" r="2.1"/>
<circle cx="451.6" cy="96.5" r="2.1"/>
<circle cx="452.4" cy="93.1" r="2.1"/>
<circle cx="452.3" cy="95.3" r="2.1"/>
<circle cx="452.7" cy="90.9" r="2.1"/>
<circle cx="453.4" cy="92.0" r="2.1"/>
<circle cx="453.9" cy="88.6" r="2.1"/>
<circle cx="453.2" cy="91.0" r="2.1"/>
<circle cx="454.0" cy="90.6" r="2.1"/>
<circle cx="452.9" cy="86.8" r="2.1"/>
<circle cx="453.2" cy="85.5" r="2.1"/>
<circle cx="454.8" cy="86.4" r="2.1"/>
<circle cx="454.9" cy="84.6" r="2.1"/>
<circle cx="455.0" cy="84.1" r="2.1"/>
<circle cx="454.5" cy="84.9" r="2.1"/>
<circle cx="456.1" cy="81.1" r="2.1"/>
<circle cx="456.1" cy="82.7" r="2.1"/>
<circle cx="456.0" cy="80.8" r="2.1"/>
<circle cx="456.4" cy="79.4" r="2.1"/>
<circle cx="457.1" cy="80.5" r="2.1"/>
<circle cx="458.2" cy="77.9" r="2.1"/>
<circle cx="457.6" cy="77.7" r="2.1"/>
<circle cx="459.1" cy="76.2" r="2.1"/>
<circle cx="458.9" cy="75.5" r="2.1"/>
<circle cx="460.2" cy="76.3" r="2.1"/>
<circle cx="459.4" cy="73.5" r="2.1"/>
<circle cx="460.4" cy="74.8" r="2.1"/>
<circle cx="461.2" cy="71.9" r="2.1"/>
<circle cx="460.8" cy="75.4" r="2.1"/>
<circle cx="461.6" cy="74.3" r="2.1"/>
<circle cx="461.8" cy="78.1" r="2.1"/>
<circle cx="462.1" cy="77.1" r="2.1"/>
<circle cx="462.6" cy="77.1" r="2.1"/>
<circle cx="463.7" cy="80.5" r="2.1"/>
<circle cx="463.3" cy="77.6" r="2.1"/>
<circle cx="464.1" cy="78.4" r="2.1"/>
<circle cx="463.3" cy="82.4" r="2.1"/>
<circle cx="464.2" cy="82.7" r="2.1"/>
<circle cx="464.4" cy="83.8" r="2.1"/>
<circle cx="464.8" cy="81.2" r="2.1"/>
<circle cx="464.4" cy="83.8" r="2.1"/>
<circle cx="465.6" cy="86.2" r="2.1"/>
<circle cx="466.0" cy="101.0" r="2.1"/>
<circle cx="465.8" cy="102.3" r="2.1"/>
<circle cx="466.8" cy="102.5" r="2.1"/>
<circle cx="466.9" cy="102.3" r="2.1"/>
<circle cx="468.0" cy="106.0" r="2.1"/>
<circle cx="467.7" cy="104.8" r="2.1"/>
<circle cx="469.1" cy="107.9" r="2.1"/>
<circle cx="468.4" cy="104.9" r="2.1"/>
<circle cx="469.9" cy="109.6" r="2.1"/>
<circle cx="469.4" cy="106.2" r="2.1"/>
<circle cx="470.4" cy="108.6" r="2.1"/>
<circle cx="470.6" cy="110.6" r="2.1"/>
<circle cx="474.1" cy="115.0" r="2.1"/>
<circle cx="473.9" cy="115.3" r="2.1"/>
<circle cx="472.4" cy="119.1" r="2.1"/>
<circle cx="474.1" cy="115.1" r="2.1"/>
<circle cx="471.7" cy="116.4" r="2.1"/>
<circle cx="472.9" cy="116.3" r="2.1"/>
<circle cx="472.8" cy="117.0" r="2.1"/>
<circle cx="472.5" cy="115.0" r="2.1"/>
<circle cx="473.7" cy="117.2" r="2.1"/>
<circle cx="472.9" cy="114.8" r="2.1"/>
<circle cx="474.3" cy="111.5" r="2.1"/>
<circle cx="474.8" cy="111.1" r="2.1"/>
<circle cx="474.7" cy="112.2" r="2.1"/>
<circle cx="474.9" cy="110.3" r="2.1"/>
<circle cx="474.8" cy="110.8" r="2.1"/>
<circle cx="475.0" cy="110.3" r="2.1"/>
<circle cx="475.2" cy="108.5" r="2.1"/>
<circle cx="474.7" cy="108.5" r="2.1"/>
<circle cx="475.7" cy="106.0" r="2.1"/>
<circle cx="476.3" cy="107.7" r="2.1"/>
<circle cx="476.0" cy="104.1" r="2.1"/>
<circle cx="476.3" cy="103.0" r="2.1"/>
<circle cx="475.9" cy="103.7" r="2.1"/>
<circle cx="476.2" cy="103.0" r="2.1"/>
<circle cx="477.1" cy="100.4" r="2.1"/>
<circle cx="477.7" cy="99.8" r="2.1"/>
<circle cx="478.1" cy="102.3" r="2.1"/>
<circle cx="478.1" cy="98.2" r="2.1"/>
<circle cx="478.4" cy="98.9" r="2.1"/>
<circle cx="479.4" cy="97.1" r="2.1"/>
<circle cx="479.6" cy="100.3" r="2.1"/>
<circle cx="479.7" cy="98.7" r="2.1"/>
<circle cx="479.1" cy="98.7" r="2.1"/>
<circle cx="479.9" cy="97.8" r="2.1"/>
<circle cx="480.8" cy="93.4" r="2.1"/>
<circle cx="480.9" cy="96.2" r="2.1"/>
<circle cx="480.0" cy="92.8" r="2.1"/>
<circle cx="481.4" cy="91.1" r="2.1"/>
<circle cx="482.0" cy="90.9" r="2.1"/>
<circle cx="482.1" cy="89.5" r="2.1"/>
<circle cx="481.9" cy="92.3" r="2.1"/>
<circle cx="481.6" cy="88.4" r="2.1"/>
<circle cx="482.3" cy="87.8" r="2.1"/>
<circle cx="481.7" cy="86.2" r="2.1"/>
<circle cx="482.1" cy="88.8" r="2.1"/>
<circle cx="483.1" cy="87.7" r="2.1"/>
<circle cx="482.5" cy="86.3" r="2.1"/>
<circle cx="482.6" cy="84.3" r="2.1"/>
<circle cx="483.7" cy="82.7" r="2.1"/>
<circle cx="484.3" cy="82.7" r="2.1"/>
<circle cx="484.1" cy="83.4" r="2.1"/>
<circle cx="483.6" cy="83.0" r="2.1"/>
<circle cx="484.7" cy="79.4" r="2.1"/>
<circle cx="485.2" cy="78.0" r="2.1"/>
<circle cx="485.8" cy="78.6" r="2.1"/>
<circle cx="485.3" cy="78.8" r="2.1"/>
<circle cx="486.1" cy="75.5" r="2.1"/>
<circle cx="487.1" cy="74.3" r="2.1"/>
<circle cx="487.8" cy="74.7" r="2.1"/>
<circle cx="488.1" cy="77.4" r="2.1"/>
<circle cx="488.6" cy="75.4" r="2.1"/>
<circle cx="488.7" cy="71.7" r="2.1"/>
<circle cx="488.7" cy="70.6" r="2.1"/>
<circle cx="491.6" cy="71.7" r="2.1"/>
<circle cx="491.1" cy="73.6" r="2.1"/>
<circle cx="489.2" cy="70.9" r="2.1"/>
<circle cx="491.8" cy="70.1" r="2.1"/>
<circle cx="491.0" cy="72.0" r="2.1"/>
<circle cx="491.1" cy="70.9" r="2.1"/>
<circle cx="492.1" cy="70.5" r="2.1"/>
<circle cx="493.2" cy="71.2" r="2.1"/>
<circle cx="494.4" cy="80.6" r="2.1"/>
<circle cx="494.4" cy="87.3" r="2.1"/>
<circle cx="495.5" cy="99.0" r="2.1"/>
<circle cx="497.7" cy="100.9" r="2.1"/>
<circle cx="497.8" cy="102.5" r="2.1"/>
<circle cx="495.8" cy="105.3" r="2.1"/>
<circle cx="496.3" cy="100.6" r="2.1"/>
<circle cx="495.7" cy="103.5" r="2.1"/>
<circle cx="498.8" cy="104.4" r="2.1"/>
<circle cx="497.3" cy="102.7" r="2.1"/>
<circle cx="497.6" cy="102.3" r="2.1"/>
<circle cx="497.4" cy="104.8" r="2.1"/>
<circle cx="498.6" cy="104.2" r="2.1"/>
<circle cx="499.2" cy="105.3" r="2.1"/>
<circle cx="500.1" cy="107.4" r="2.1"/>
<circle cx="499.4" cy="108.9" r="2.1"/>
<circle cx="499.1" cy="108.0" r="2.1"/>
<circle cx="499.6" cy="107.6" r="2.1"/>
<circle cx="499.1" cy="111.0" r="2.1"/>
<circle cx="499.0" cy="110.8" r="2.1"/>
<circle cx="500.5" cy="109.9" r="2.1"/>
<circle cx="499.3" cy="112.9" r="2.1"/>
<circle cx="499.8" cy="114.0" r="2.1"/>
<circle cx="500.3" cy="112.7" r="2.1"/>
<circle cx="499.9" cy="114.0" r="2.1"/>
<circle cx="500.0" cy="117.5" r="2.1"/>
<circle cx="501.6" cy="117.5" r="2.1"/>
<circle cx="500.8" cy="118.8" r="2.1"/>
<circle cx="502.4" cy="117.8" r="2.1"/>
<circle cx="505.1" cy="123.5" r="2.1"/>
<circle cx="503.0" cy="133.0" r="2.1"/>
<circle cx="503.0" cy="133.6" r="2.1"/>
<circle cx="501.8" cy="132.8" r="2.1"/>
<circle cx="501.4" cy="133.3" r="2.1"/>
<circle cx="501.1" cy="137.3" r="2.1"/>
<circle cx="501.3" cy="138.6" r="2.1"/>
<circle cx="503.1" cy="137.3" r="2.1"/>
<circle cx="502.4" cy="138.2" r="2.1"/>
<circle cx="503.5" cy="138.6" r="2.1"/>
<circle cx="501.2" cy="139.2" r="2.1"/>
<circle cx="504.2" cy="137.1" r="2.1"/>
<circle cx="503.9" cy="136.1" r="2.1"/>
<circle cx="501.1" cy="137.2" r="2.1"/>
<circle cx="503.3" cy="140.7" r="2.1"/>
<circle cx="502.2" cy="138.5" r="2.1"/>
<circle cx="503.5" cy="137.5" r="2.1"/>
<circle cx="504.6" cy="137.2" r="2.1"/>
<circle cx="505.9" cy="123.0" r="2.1"/>
<circle cx="505.9" cy="115.0" r="2.1"/>
<circle cx="505.9" cy="116.1" r="2.1"/>
<circle cx="506.8" cy="114.4" r="2.1"/>
<circle cx="507.3" cy="115.0" r="2.1"/>
<circle cx="507.3" cy="113.6" r="2.1"/>
<circle cx="508.1" cy="112.9" r="2.1"/>
<circle cx="508.0" cy="111.6" r="2.1"/>
<circle cx="508.6" cy="108.9" r="2.1"/>
<circle cx="508.4" cy="109.6" r="2.1"/>
<circle cx="508.6" cy="110.2" r="2.1"/>
<circle cx="509.0" cy="105.4" r="2.1"/>
<circle cx="509.1" cy="108.8" r="2.1"/>
<circle cx="509.7" cy="104.4" r="2.1"/>
<circle cx="509.3" cy="103.2" r="2.1"/>
<circle cx="510.5" cy="105.1" r="2.1"/>
<circle cx="510.7" cy="104.9" r="2.1"/>
<circle cx="509.8" cy="103.4" r="2.1"/>
<circle cx="510.4" cy="103.6" r="2.1"/>
<circle cx="511.2" cy="103.1" r="2.1"/>
<circle cx="510.2" cy="102.1" r="2.1"/>
<circle cx="511.6" cy="101.6" r="2.1"/>
<circle cx="510.4" cy="97.3" r="2.1"/>
<circle cx="510.6" cy="95.6" r="2.1"/>
<circle cx="511.9" cy="98.4" r="2.1"/>
<circle cx="511.6" cy="97.5" r="2.1"/>
<circle cx="511.7" cy="94.2" r="2.1"/>
<circle cx="511.0" cy="92.5" r="2.1"/>
<circle cx="512.2" cy="92.1" r="2.1"/>
<circle cx="511.6" cy="92.2" r="2.1"/>
<circle cx="511.2" cy="90.6" r="2.1"/>
<circle cx="512.2" cy="92.1" r="2.1"/>
<circle cx="512.9" cy="89.6" r="2.1"/>
<circle cx="514.4" cy="89.8" r="2.1"/>
<circle cx="514.8" cy="89.7" r="2.1"/>
<circle cx="514.0" cy="88.1" r="2.1"/>
<circle cx="515.2" cy="89.2" r="2.1"/>
<circle cx="515.6" cy="88.2" r="2.1"/>
<circle cx="516.5" cy="85.3" r="2.1"/>
<circle cx="517.6" cy="84.1" r="2.1"/>
<circle cx="518.2" cy="83.9" r="2.1"/>
<circle cx="517.5" cy="83.4" r="2.1"/>
<circle cx="519.4" cy="86.4" r="2.1"/>
<circle cx="518.9" cy="83.6" r="2.1"/>
<circle cx="520.3" cy="84.4" r="2.1"/>
<circle cx="520.5" cy="82.4" r="2.1"/>
<circle cx="521.4" cy="83.3" r="2.1"/>
<circle cx="522.0" cy="83.2" r="2.1"/>
<circle cx="522.7" cy="79.3" r="2.1"/>
<circle cx="523.9" cy="80.0" r="2.1"/>
<circle cx="523.6" cy="80.1" r="2.1"/>
<circle cx="524.2" cy="80.2" r="2.1"/>
<circle cx="525.8" cy="79.6" r="2.1"/>
<circle cx="526.3" cy="77.1" r="2.1"/>
<circle cx="526.6" cy="76.7" r="2.1"/>
<circle cx="528.0" cy="74.7" r="2.1"/>
<circle cx="528.6" cy="73.8" r="2.1"/>
<circle cx="528.2" cy="74.4" r="2.1"/>
<circle cx="530.0" cy="74.9" r="2.1"/>
<circle cx="529.9" cy="76.1" r="2.1"/>
<circle cx="530.4" cy="73.6" r="2.1"/>
<circle cx="531.6" cy="74.4" r="2.1"/>
<circle cx="532.6" cy="73.4" r="2.1"/>
<circle cx="532.7" cy="71.4" r="2.1"/>
<circle cx="533.0" cy="73.2" r="2.1"/>
<circle cx="534.6" cy="73.4" r="2.1"/>
<circle cx="534.5" cy="72.7" r="2.1"/>
<circle cx="535.8" cy="88.0" r="2.1"/>
<circle cx="535.8" cy="100.7" r="2.1"/>
<circle cx="535.8" cy="116.7" r="2.1"/>
<circle cx="536.4" cy="117.9" r="2.1"/>
<circle cx="535.5" cy="118.1" r="2.1"/>
<circle cx="536.9" cy="117.9" r="2.1"/>
<circle cx="535.9" cy="118.9" r="2.1"/>
<circle cx="536.9" cy="122.2" r="2.1"/>
<circle cx="536.1" cy="119.8" r="2.1"/>
<circle cx="536.4" cy="121.4" r="2.1"/>
<circle cx="537.0" cy="121.4" r="2.1"/>
<circle cx="538.3" cy="124.4" r="2.1"/>
<circle cx="540.9" cy="127.1" r="2.1"/>
<circle cx="537.4" cy="128.3" r="2.1"/>
<circle cx="537.4" cy="125.4" r="2.1"/>
<circle cx="540.9" cy="127.5" r="2.1"/>
<circle cx="539.9" cy="125.7" r="2.1"/>
<circle cx="539.0" cy="126.0" r="2.1"/>
<circle cx="539.2" cy="127.3" r="2.1"/>
<circle cx="539.7" cy="126.0" r="2.1"/>
<circle cx="540.8" cy="125.9" r="2.1"/>
<circle cx="542.0" cy="135.8" r="2.1"/>
<circle cx="543.0" cy="146.0" r="2.1"/>
<circle cx="543.5" cy="154.7" r="2.1"/>
<circle cx="544.7" cy="153.0" r="2.1"/>
<circle cx="544.4" cy="152.8" r="2.1"/>
<circle cx="542.5" cy="153.6" r="2.1"/>
<circle cx="543.5" cy="154.4" r="2.1"/>
<circle cx="545.5" cy="152.6" r="2.1"/>
<circle cx="544.2" cy="154.5" r="2.1"/>
<circle cx="543.6" cy="151.4" r="2.1"/>
<circle cx="543.9" cy="153.0" r="2.1"/>
<circle cx="544.8" cy="154.2" r="2.1"/>
<circle cx="545.4" cy="152.9" r="2.1"/>
<circle cx="546.7" cy="135.0" r="2.1"/>
<circle cx="546.7" cy="127.0" r="2.1"/>
<circle cx="547.5" cy="127.0" r="2.1"/>
<circle cx="547.5" cy="125.1" r="2.1"/>
<circle cx="547.2" cy="125.1" r="2.1"/>
<circle cx="547.1" cy="123.3" r="2.1"/>
<circle cx="548.5" cy="123.8" r="2.1"/>
<circle cx="548.5" cy="120.8" r="2.1"/>
<circle cx="548.4" cy="120.9" r="2.1"/>
<circle cx="549.0" cy="119.8" r="2.1"/>
<circle cx="549.4" cy="121.4" r="2.1"/>
<circle cx="548.9" cy="119.3" r="2.1"/>
<circle cx="550.1" cy="117.2" r="2.1"/>
<circle cx="549.9" cy="119.1" r="2.1"/>
<circle cx="549.4" cy="116.3" r="2.1"/>
<circle cx="549.9" cy="116.6" r="2.1"/>
<circle cx="551.4" cy="114.6" r="2.1"/>
<circle cx="550.3" cy="114.0" r="2.1"/>
<circle cx="551.3" cy="113.8" r="2.1"/>
<circle cx="551.5" cy="112.6" r="2.1"/>
<circle cx="552.4" cy="111.3" r="2.1"/>
<circle cx="552.1" cy="112.5" r="2.1"/>
<circle cx="552.1" cy="110.4" r="2.1"/>
<circle cx="552.7" cy="110.0" r="2.1"/>
<circle cx="552.6" cy="110.2" r="2.1"/>
<circle cx="553.4" cy="105.2" r="2.1"/>
<circle cx="553.6" cy="105.9" r="2.1"/>
<circle cx="553.5" cy="105.2" r="2.1"/>
<circle cx="554.4" cy="105.7" r="2.1"/>
<circle cx="554.5" cy="102.9" r="2.1"/>
<circle cx="554.5" cy="104.3" r="2.1"/>
<circle cx="555.9" cy="102.5" r="2.1"/>
<circle cx="555.0" cy="103.0" r="2.1"/>
<circle cx="555.5" cy="99.5" r="2.1"/>
<circle cx="555.3" cy="101.3" r="2.1"/>
<circle cx="556.6" cy="99.8" r="2.1"/>
<circle cx="556.3" cy="98.7" r="2.1"/>
<circle cx="556.1" cy="99.7" r="2.1"/>
<circle cx="556.5" cy="97.4" r="2.1"/>
<circle cx="557.5" cy="97.5" r="2.1"/>
<circle cx="557.2" cy="94.3" r="2.1"/>
<circle cx="557.5" cy="92.7" r="2.1"/>
<circle cx="558.2" cy="93.0" r="2.1"/>
<circle cx="558.4" cy="91.8" r="2.1"/>
<circle cx="557.8" cy="90.9" r="2.1"/>
<circle cx="558.1" cy="89.8" r="2.1"/>
<circle cx="557.7" cy="91.5" r="2.1"/>
<circle cx="558.3" cy="88.5" r="2.1"/>
<circle cx="558.6" cy="88.8" r="2.1"/>
<circle cx="559.0" cy="88.7" r="2.1"/>
<circle cx="559.5" cy="86.7" r="2.1"/>
<circle cx="560.2" cy="88.1" r="2.1"/>
<circle cx="559.4" cy="87.3" r="2.1"/>
<circle cx="561.3" cy="86.4" r="2.1"/>
<circle cx="560.6" cy="86.0" r="2.1"/>
<circle cx="562.0" cy="81.5" r="2.1"/>
<circle cx="561.5" cy="85.1" r="2.1"/>
<circle cx="563.1" cy="81.2" r="2.1"/>
<circle cx="562.8" cy="80.0" r="2.1"/>
<circle cx="563.6" cy="82.3" r="2.1"/>
<circle cx="564.3" cy="78.8" r="2.1"/>
<circle cx="565.7" cy="81.1" r="2.1"/>
<circle cx="565.0" cy="80.9" r="2.1"/>
<circle cx="566.3" cy="79.8" r="2.1"/>
<circle cx="566.9" cy="79.7" r="2.1"/>
<circle cx="567.6" cy="78.8" r="2.1"/>
<circle cx="567.2" cy="77.5" r="2.1"/>
<circle cx="568.2" cy="77.1" r="2.1"/>
<circle cx="568.7" cy="77.2" r="2.1"/>
<circle cx="569.6" cy="73.8" r="2.1"/>
<circle cx="569.7" cy="72.7" r="2.1"/>
<circle cx="570.8" cy="71.7" r="2.1"/>
<circle cx="571.4" cy="71.6" r="2.1"/>
<circle cx="572.1" cy="72.7" r="2.1"/>
<circle cx="572.8" cy="73.8" r="2.1"/>
<circle cx="572.6" cy="73.1" r="2.1"/>
<circle cx="573.9" cy="71.3" r="2.1"/>
<circle cx="578.8" cy="68.9" r="2.1"/>
<circle cx="577.4" cy="67.2" r="2.1"/>
<circle cx="580.3" cy="65.8" r="2.1"/>
<circle cx="578.7" cy="68.0" r="2.1"/>
<circle cx="575.6" cy="67.9" r="2.1"/>
<circle cx="578.0" cy="67.5" r="2.1"/>
<circle cx="578.9" cy="68.9" r="2.1"/>
<circle cx="578.9" cy="68.4" r="2.1"/>
<circle cx="579.7" cy="65.5" r="2.1"/>
<circle cx="580.5" cy="64.3" r="2.1"/>
<circle cx="580.4" cy="67.9" r="2.1"/>
<circle cx="579.9" cy="69.9" r="2.1"/>
<circle cx="580.1" cy="69.0" r="2.1"/>
<circle cx="580.5" cy="71.2" r="2.1"/>
<circle cx="581.0" cy="77.8" r="2.1"/>
<circle cx="581.0" cy="91.7" r="2.1"/>
<circle cx="582.0" cy="108.0" r="2.1"/>
<circle cx="582.9" cy="112.2" r="2.1"/>
<circle cx="583.6" cy="112.8" r="2.1"/>
<circle cx="584.8" cy="111.5" r="2.1"/>
<circle cx="584.8" cy="112.0" r="2.1"/>
<circle cx="583.8" cy="111.4" r="2.1"/>
<circle cx="583.8" cy="114.9" r="2.1"/>
<circle cx="583.8" cy="112.5" r="2.1"/>
<circle cx="585.6" cy="121.9" r="2.1"/>
<circle cx="586.6" cy="133.3" r="2.1"/>
<circle cx="588.0" cy="148.0" r="2.1"/>
<circle cx="590.2" cy="154.2" r="2.1"/>
<circle cx="589.2" cy="151.3" r="2.1"/>
<circle cx="589.1" cy="152.9" r="2.1"/>
<circle cx="590.1" cy="154.1" r="2.1"/>
<circle cx="588.3" cy="153.7" r="2.1"/>
<circle cx="590.9" cy="152.7" r="2.1"/>
<circle cx="589.7" cy="152.4" r="2.1"/>
<circle cx="589.2" cy="152.2" r="2.1"/>
<circle cx="589.4" cy="152.4" r="2.1"/>
<circle cx="591.2" cy="155.1" r="2.1"/>
<circle cx="591.0" cy="156.6" r="2.1"/>
<circle cx="591.7" cy="156.5" r="2.1"/>
<circle cx="592.5" cy="169.1" r="2.1"/>
<circle cx="592.5" cy="180.2" r="2.1"/>
<circle cx="593.0" cy="181.5" r="2.1"/>
<circle cx="593.4" cy="182.2" r="2.1"/>
<circle cx="593.6" cy="181.1" r="2.1"/>
<circle cx="593.9" cy="183.0" r="2.1"/>
<circle cx="594.3" cy="182.1" r="2.1"/>
<circle cx="593.7" cy="182.6" r="2.1"/>
<circle cx="594.9" cy="187.4" r="2.1"/>
<circle cx="595.0" cy="185.6" r="2.1"/>
<circle cx="595.5" cy="188.3" r="2.1"/>
<circle cx="595.6" cy="186.6" r="2.1"/>
<circle cx="595.8" cy="188.1" r="2.1"/>
<circle cx="596.3" cy="188.8" r="2.1"/>
<circle cx="597.4" cy="191.9" r="2.1"/>
<circle cx="597.0" cy="190.9" r="2.1"/>
<circle cx="597.2" cy="189.7" r="2.1"/>
<circle cx="598.7" cy="192.6" r="2.1"/>
<circle cx="599.1" cy="192.8" r="2.1"/>
<circle cx="597.9" cy="193.4" r="2.1"/>
<circle cx="599.1" cy="196.7" r="2.1"/>
<circle cx="600.0" cy="195.4" r="2.1"/>
<circle cx="599.3" cy="194.5" r="2.1"/>
<circle cx="600.0" cy="195.9" r="2.1"/>
<circle cx="599.4" cy="195.8" r="2.1"/>
<circle cx="599.9" cy="204.1" r="2.1"/>
<circle cx="600.6" cy="205.8" r="2.1"/>
<circle cx="600.4" cy="205.2" r="2.1"/>
<circle cx="600.7" cy="200.1" r="2.1"/>
<circle cx="604.2" cy="201.5" r="2.1"/>
<circle cx="604.3" cy="201.1" r="2.1"/>
<circle cx="600.2" cy="204.6" r="2.1"/>
<circle cx="604.2" cy="205.1" r="2.1"/>
<circle cx="604.3" cy="200.5" r="2.1"/>
<circle cx="603.7" cy="204.3" r="2.1"/>
<circle cx="602.9" cy="203.0" r="2.1"/>
<circle cx="602.8" cy="205.7" r="2.1"/>
<circle cx="602.5" cy="206.6" r="2.1"/>
<circle cx="603.2" cy="203.0" r="2.1"/>
<circle cx="602.4" cy="205.1" r="2.1"/>
<circle cx="603.9" cy="201.7" r="2.1"/>
<circle cx="603.4" cy="203.9" r="2.1"/>
<circle cx="603.4" cy="203.8" r="2.1"/>
<circle cx="604.2" cy="199.3" r="2.1"/>
<circle cx="604.3" cy="200.9" r="2.1"/>
<circle cx="604.6" cy="200.6" r="2.1"/>
<circle cx="604.4" cy="200.4" r="2.1"/>
<circle cx="605.0" cy="198.9" r="2.1"/>
<circle cx="605.7" cy="197.1" r="2.1"/>
<circle cx="605.5" cy="198.0" r="2.1"/>
<circle cx="606.6" cy="197.2" r="2.1"/>
<circle cx="606.2" cy="194.2" r="2.1"/>
<circle cx="605.6" cy="196.5" r="2.1"/>
<circle cx="606.9" cy="195.1" r="2.1"/>
<circle cx="606.5" cy="193.3" r="2.1"/>
<circle cx="607.8" cy="193.5" r="2.1"/>
<circle cx="607.5" cy="190.3" r="2.1"/>
<circle cx="607.6" cy="192.1" r="2.1"/>
<circle cx="607.8" cy="190.4" r="2.1"/>
<circle cx="608.5" cy="190.5" r="2.1"/>
<circle cx="609.2" cy="186.8" r="2.1"/>
<circle cx="608.2" cy="185.9" r="2.1"/>
<circle cx="609.1" cy="186.6" r="2.1"/>
<circle cx="610.0" cy="187.2" r="2.1"/>
<circle cx="609.1" cy="186.1" r="2.1"/>
<circle cx="610.6" cy="185.4" r="2.1"/>
<circle cx="610.5" cy="181.9" r="2.1"/>
<circle cx="611.2" cy="183.5" r="2.1"/>
<circle cx="611.2" cy="183.2" r="2.1"/>
<circle cx="613.3" cy="169.8" r="2.1"/>
<circle cx="616.8" cy="155.9" r="2.1"/>
<circle cx="616.9" cy="153.1" r="2.1"/>
<circle cx="617.5" cy="155.6" r="2.1"/>
<circle cx="617.3" cy="154.5" r="2.1"/>
<circle cx="618.7" cy="151.3" r="2.1"/>
<circle cx="618.5" cy="152.5" r="2.1"/>
<circle cx="618.6" cy="149.5" r="2.1"/>
<circle cx="618.6" cy="151.2" r="2.1"/>
<circle cx="619.8" cy="149.0" r="2.1"/>
<circle cx="619.1" cy="149.9" r="2.1"/>
<circle cx="620.6" cy="146.4" r="2.1"/>
<circle cx="620.6" cy="148.7" r="2.1"/>
<circle cx="621.5" cy="146.2" r="2.1"/>
<circle cx="621.2" cy="145.8" r="2.1"/>
<circle cx="621.1" cy="143.2" r="2.1"/>
<circle cx="621.5" cy="144.7" r="2.1"/>
<circle cx="623.8" cy="133.3" r="2.1"/>
<circle cx="623.7" cy="132.8" r="2.1"/>
<circle cx="623.9" cy="131.8" r="2.1"/>
<circle cx="623.6" cy="128.8" r="2.1"/>
<circle cx="625.1" cy="129.5" r="2.1"/>
<circle cx="623.8" cy="129.9" r="2.1"/>
<circle cx="625.1" cy="126.9" r="2.1"/>
<circle cx="624.9" cy="126.9" r="2.1"/>
<circle cx="624.9" cy="124.6" r="2.1"/>
<circle cx="624.3" cy="128.3" r="2.1"/>
<circle cx="627.6" cy="122.8" r="2.1"/>
<circle cx="626.7" cy="121.5" r="2.1"/>
<circle cx="627.3" cy="122.5" r="2.1"/>
<circle cx="627.8" cy="124.5" r="2.1"/>
<circle cx="627.5" cy="125.7" r="2.1"/>
<circle cx="625.8" cy="120.1" r="2.1"/>
<circle cx="626.5" cy="122.9" r="2.1"/>
<circle cx="626.2" cy="120.6" r="2.1"/>
<circle cx="626.2" cy="119.1" r="2.1"/>
<circle cx="627.2" cy="122.0" r="2.1"/>
<circle cx="627.2" cy="121.5" r="2.1"/>
<circle cx="628.1" cy="116.6" r="2.1"/>
<circle cx="627.8" cy="117.3" r="2.1"/>
<circle cx="627.2" cy="119.0" r="2.1"/>
<circle cx="627.6" cy="116.4" r="2.1"/>
<circle cx="628.5" cy="117.3" r="2.1"/>
<circle cx="628.7" cy="113.9" r="2.1"/>
<circle cx="628.5" cy="111.9" r="2.1"/>
<circle cx="629.6" cy="114.9" r="2.1"/>
<circle cx="628.6" cy="109.7" r="2.1"/>
<circle cx="628.8" cy="110.3" r="2.1"/>
<circle cx="630.0" cy="112.0" r="2.1"/>
<circle cx="630.1" cy="107.3" r="2.1"/>
<circle cx="630.1" cy="109.5" r="2.1"/>
<circle cx="630.1" cy="109.9" r="2.1"/>
<circle cx="629.3" cy="105.2" r="2.1"/>
<circle cx="630.6" cy="108.1" r="2.1"/>
<circle cx="630.7" cy="104.3" r="2.1"/>
<circle cx="630.7" cy="105.6" r="2.1"/>
<circle cx="630.1" cy="102.8" r="2.1"/>
<circle cx="630.5" cy="101.0" r="2.1"/>
<circle cx="631.0" cy="100.4" r="2.1"/>
<circle cx="630.8" cy="99.5" r="2.1"/>
<circle cx="631.7" cy="98.1" r="2.1"/>
<circle cx="632.0" cy="98.1" r="2.1"/>
<circle cx="631.2" cy="100.7" r="2.1"/>
<circle cx="631.7" cy="99.9" r="2.1"/>
<circle cx="633.0" cy="98.9" r="2.1"/>
<circle cx="632.1" cy="96.1" r="2.1"/>
<circle cx="632.3" cy="97.5" r="2.1"/>
<circle cx="633.8" cy="95.4" r="2.1"/>
<circle cx="633.4" cy="93.3" r="2.1"/>
<circle cx="634.4" cy="93.1" r="2.1"/>
<circle cx="634.4" cy="90.7" r="2.1"/>
<circle cx="634.1" cy="89.5" r="2.1"/>
<circle cx="635.2" cy="90.9" r="2.1"/>
<circle cx="634.6" cy="91.6" r="2.1"/>
<circle cx="635.2" cy="88.6" r="2.1"/>
<circle cx="635.3" cy="87.1" r="2.1"/>
<circle cx="636.9" cy="86.8" r="2.1"/>
<circle cx="636.4" cy="86.8" r="2.1"/>
<circle cx="637.1" cy="88.0" r="2.1"/>
<circle cx="637.3" cy="87.7" r="2.1"/>
<circle cx="637.7" cy="86.7" r="2.1"/>
<circle cx="639.2" cy="82.8" r="2.1"/>
<circle cx="639.4" cy="82.5" r="2.1"/>
<circle cx="639.9" cy="81.9" r="2.1"/>
<circle cx="641.0" cy="85.3" r="2.1"/>
<circle cx="642.9" cy="84.7" r="2.1"/>
<circle cx="642.4" cy="81.5" r="2.1"/>
<circle cx="648.2" cy="81.2" r="2.1"/>
<circle cx="646.8" cy="81.9" r="2.1"/>
<circle cx="648.8" cy="81.0" r="2.1"/>
<circle cx="647.5" cy="82.0" r="2.1"/>
<circle cx="642.1" cy="81.0" r="2.1"/>
<circle cx="647.7" cy="82.6" r="2.1"/>
<circle cx="642.5" cy="82.3" r="2.1"/>
<circle cx="648.3" cy="81.7" r="2.1"/>
<circle cx="645.0" cy="82.5" r="2.1"/>
<circle cx="645.9" cy="80.6" r="2.1"/>
<circle cx="646.0" cy="83.2" r="2.1"/>
<circle cx="647.7" cy="80.7" r="2.1"/>
<circle cx="647.5" cy="80.3" r="2.1"/>
<circle cx="649.1" cy="82.2" r="2.1"/>
<circle cx="649.4" cy="80.9" r="2.1"/>
</g>
<path d="M85.5,353.7 L86.0,353.8 L86.5,354.0 L87.0,353.7 L87.5,353.2 L88.0,353.1 L88.5,353.9 L89.0,353.5 L89.5,353.9 L90.4,353.6 L90.4,266.3 L92.4,266.3 L92.4,353.6 L92.9,354.0 L93.4,353.4 L93.9,354.0 L94.4,354.0 L94.9,353.6 L95.4,353.0 L95.9,354.1 L96.4,353.6 L96.9,354.0 L97.4,353.3 L98.4,353.6 L98.4,311.0 L99.0,266.3 L100.6,266.3 L100.6,353.6 L101.1,354.0 L101.6,353.4 L102.1,353.2 L102.6,353.4 L103.1,353.7 L103.2,360.0 L103.7,360.6 L104.2,360.5 L104.7,360.6 L105.7,360.6 L105.7,418.4 L107.9,418.4 L107.9,360.6 L108.4,360.9 L108.9,361.0 L109.4,361.0 L109.9,360.4 L110.4,360.9 L110.9,360.5 L111.4,360.9 L111.9,360.1 L112.4,361.0 L112.9,361.1 L113.4,360.6 L113.9,360.6 L113.9,418.4 L116.7,418.4 L116.7,360.6 L117.2,360.6 L117.7,360.6 L118.2,360.0 L118.7,361.2 L119.2,360.3 L119.5,353.2 L120.0,353.1 L120.5,353.3 L121.0,354.0 L121.5,353.0 L122.2,353.6 L122.2,266.3 L124.4,266.3 L124.4,353.6 L124.9,353.8 L125.4,353.2 L125.9,353.0 L126.4,353.7 L126.9,353.7 L127.4,353.6 L127.9,353.8 L128.4,353.1 L128.7,353.6 L128.7,266.3 L131.9,266.3 L131.9,353.6 L132.4,353.9 L132.9,353.1 L133.4,353.1 L133.9,353.6 L134.4,353.6 L134.5,360.3 L135.0,360.1 L135.5,360.5 L136.0,360.2 L136.5,360.7 L137.0,361.0 L137.9,360.6 L137.9,392.0 L138.5,418.4 L140.1,418.4 L140.1,360.6 L140.6,360.7 L141.1,360.9 L141.6,360.2 L142.1,361.0 L142.6,361.1 L143.1,360.5 L143.6,360.5 L144.1,361.0 L144.8,360.6 L144.8,418.4 L147.6,418.4 L147.6,360.6 L148.1,360.5 L148.6,361.1 L149.1,360.9 L149.6,360.4 L150.0,353.3 L150.5,353.4 L151.0,353.5 L151.5,354.2 L152.0,354.0 L152.4,353.6 L152.4,266.3 L155.6,266.3 L155.6,353.6 L156.1,354.0 L156.6,354.0 L157.1,353.1 L157.6,353.6 L158.1,354.1 L158.3,361.1 L158.8,360.3 L159.3,360.5 L159.8,360.8 L160.5,360.6 L160.5,418.4 L163.1,418.4 L163.1,360.6 L163.6,360.6 L164.1,360.1 L164.6,360.5 L165.1,360.6 L165.6,360.0 L166.1,360.2 L166.6,361.2 L167.1,360.9 L167.6,361.1 L168.1,360.8 L168.6,361.0 L168.7,360.6 L168.7,418.4 L171.9,418.4 L171.9,360.6 L172.4,361.1 L172.9,360.0 L173.4,360.8 L173.9,360.3 L174.4,360.8 L174.9,360.3 L175.4,360.7 L175.9,361.1 L176.4,360.7 L177.3,360.6 L177.3,418.4 L179.7,418.4 L179.7,360.6 L180.2,360.6 L180.7,360.5 L181.2,361.1 L181.7,360.3 L182.2,360.4 L182.5,353.8 L183.0,353.1 L183.5,353.7 L184.0,354.1 L184.5,353.6 L185.4,353.6 L185.4,266.3 L187.8,266.3 L187.8,353.6 L188.3,353.6 L188.8,353.6 L189.3,353.2 L189.8,353.1 L190.3,353.2 L190.8,353.4 L191.3,353.5 L191.8,353.3 L192.3,353.3 L193.3,353.6 L193.3,344.5 L193.9,266.3 L195.5,266.3 L195.5,353.6 L196.0,353.7 L196.5,354.0 L197.0,353.7 L197.5,353.7 L198.0,353.8 L198.0,360.2 L198.5,360.9 L199.0,360.6 L199.5,360.7 L199.8,360.6 L199.8,418.4 L202.6,418.4 L202.6,360.6 L203.1,360.6 L203.6,360.4 L204.1,360.3 L204.6,360.3 L205.1,360.6 L205.6,360.5 L206.1,360.7 L206.6,360.0 L207.1,360.4 L207.4,360.6 L207.4,397.8 L208.0,418.4 L210.6,418.4 L210.6,360.6 L211.1,360.3 L211.6,360.7 L212.1,360.6 L212.6,360.3 L213.1,361.2 L213.6,360.4 L214.1,360.9 L214.6,360.2 L215.6,360.6 L215.6,418.4 L217.0,418.4 L217.6,371.4 L217.6,360.6 L218.1,361.0 L218.6,360.5 L219.1,360.1 L219.6,360.5 L220.1,360.5 L220.6,360.9 L221.1,360.1 L221.6,360.3 L222.1,361.2 L222.4,360.6 L222.4,418.4 L224.8,418.4 L225.4,379.1 L225.4,360.6 L225.9,360.2 L226.4,360.4 L226.9,360.4 L227.4,360.8 L227.9,360.7 L228.4,361.0 L228.9,361.0 L229.4,360.6 L229.9,360.6 L229.9,418.4 L232.3,418.4 L232.9,407.5 L232.9,360.6 L233.4,360.9 L233.9,360.9 L234.4,360.6 L234.9,360.9 L235.4,360.9 L235.9,361.1 L236.4,360.2 L236.9,361.0 L237.4,360.0 L237.9,360.9 L238.6,360.6 L238.6,418.4 L241.4,418.4 L241.4,360.6 L241.9,360.6 L242.4,361.2 L242.9,360.7 L243.4,360.5 L243.5,353.9 L244.0,354.0 L244.5,353.7 L245.0,353.5 L245.5,353.5 L246.1,353.6 L246.1,266.3 L248.7,266.3 L248.7,353.6 L249.2,353.9 L249.7,353.4 L250.2,353.5 L250.7,353.7 L251.2,353.5 L251.7,353.4 L252.2,353.9 L252.7,354.0 L253.2,353.6 L253.7,353.5 L254.2,353.2 L254.7,353.4 L255.3,353.6 L255.3,330.9 L255.9,266.3 L257.5,266.3 L257.5,353.6 L258.0,353.7 L258.5,353.7 L259.0,353.1 L259.5,354.1 L260.0,353.4 L260.5,361.0 L261.0,361.0 L261.5,361.2 L262.0,360.2 L262.5,360.5 L262.7,360.6 L262.7,418.4 L265.9,418.4 L265.9,360.6 L266.4,360.0 L266.9,360.1 L267.4,360.7 L267.9,360.6 L268.4,361.1 L268.9,360.9 L269.4,360.6 L269.9,361.2 L270.4,360.6 L270.9,360.6 L271.3,360.6 L271.3,418.4 L274.3,418.4 L274.3,360.6 L274.8,360.5 L275.3,360.4 L275.8,360.7 L276.3,360.4 L276.8,361.1 L277.3,360.8 L277.8,360.6 L278.3,360.1 L278.8,360.4 L279.3,360.5 L279.9,360.6 L279.9,418.4 L282.7,418.4 L282.7,360.6 L283.2,360.7 L283.7,361.1 L284.2,361.2 L284.7,360.6 L285.2,360.5 L285.7,360.7 L286.2,361.2 L286.7,360.4 L287.2,360.6 L287.7,360.6 L287.7,389.2 L288.3,418.4 L290.9,418.4 L290.9,360.6 L291.4,360.2 L291.9,360.4 L292.4,361.2 L292.9,361.0 L293.4,360.6 L293.9,360.1 L294.4,361.1 L294.9,360.8 L295.4,361.0 L295.9,361.2 L296.4,361.1 L297.1,360.6 L297.1,418.4 L299.7,418.4 L299.7,360.6 L300.2,360.2 L300.7,360.3 L301.2,360.6 L301.7,360.6 L302.2,360.2 L302.7,360.2 L303.2,360.8 L303.7,360.7 L304.2,360.4 L304.7,361.2 L305.2,360.8 L306.3,360.6 L306.3,418.4 L307.7,418.4 L308.3,375.6 L308.3,360.6 L308.8,360.5 L309.3,360.9 L309.8,360.4 L310.3,360.8 L310.8,360.0 L311.3,360.4 L311.8,361.0 L312.3,360.7 L312.8,360.8 L313.3,360.2 L313.8,360.6 L314.3,360.7 L314.8,360.3 L315.3,360.8 L315.8,360.6 L316.3,361.2 L316.8,360.7 L317.3,360.5 L317.8,360.1 L318.3,360.2 L318.8,360.9 L319.3,360.1 L319.8,360.1 L320.3,360.2 L320.8,360.6 L321.3,361.0 L321.8,360.7 L322.3,361.0" fill="none" stroke="#ff0000" stroke-width="1.3" stroke-linejoin="miter"/>
<g fill="#fff" stroke="#ff0000" stroke-width="1.45">
<circle cx="85.5" cy="353.7" r="2.85"/>
<circle cx="86.0" cy="353.8" r="2.85"/>
<circle cx="86.5" cy="354.0" r="2.85"/>
<circle cx="87.0" cy="353.7" r="2.85"/>
<circle cx="87.5" cy="353.2" r="2.85"/>
<circle cx="88.0" cy="353.1" r="2.85"/>
<circle cx="88.5" cy="353.9" r="2.85"/>
<circle cx="89.0" cy="353.5" r="2.85"/>
<circle cx="89.5" cy="353.9" r="2.85"/>
<circle cx="91.4" cy="266.3" r="2.85"/>
<circle cx="92.6" cy="353.6" r="2.85"/>
<circle cx="92.9" cy="354.0" r="2.85"/>
<circle cx="93.4" cy="353.4" r="2.85"/>
<circle cx="93.9" cy="354.0" r="2.85"/>
<circle cx="94.4" cy="354.0" r="2.85"/>
<circle cx="94.9" cy="353.6" r="2.85"/>
<circle cx="95.4" cy="353.0" r="2.85"/>
<circle cx="95.9" cy="354.1" r="2.85"/>
<circle cx="96.4" cy="353.6" r="2.85"/>
<circle cx="96.9" cy="354.0" r="2.85"/>
<circle cx="97.4" cy="353.3" r="2.85"/>
<circle cx="98.7" cy="311.0" r="2.85"/>
<circle cx="99.5" cy="266.3" r="2.85"/>
<circle cx="100.8" cy="353.6" r="2.85"/>
<circle cx="101.1" cy="354.0" r="2.85"/>
<circle cx="101.6" cy="353.4" r="2.85"/>
<circle cx="102.1" cy="353.2" r="2.85"/>
<circle cx="102.6" cy="353.4" r="2.85"/>
<circle cx="103.1" cy="353.7" r="2.85"/>
<circle cx="103.2" cy="360.0" r="2.85"/>
<circle cx="103.7" cy="360.6" r="2.85"/>
<circle cx="104.2" cy="360.5" r="2.85"/>
<circle cx="104.7" cy="360.6" r="2.85"/>
<circle cx="106.8" cy="418.4" r="2.85"/>
<circle cx="108.1" cy="360.6" r="2.85"/>
<circle cx="108.4" cy="360.9" r="2.85"/>
<circle cx="108.9" cy="361.0" r="2.85"/>
<circle cx="109.4" cy="361.0" r="2.85"/>
<circle cx="109.9" cy="360.4" r="2.85"/>
<circle cx="110.4" cy="360.9" r="2.85"/>
<circle cx="110.9" cy="360.5" r="2.85"/>
<circle cx="111.4" cy="360.9" r="2.85"/>
<circle cx="111.9" cy="360.1" r="2.85"/>
<circle cx="112.4" cy="361.0" r="2.85"/>
<circle cx="112.9" cy="361.1" r="2.85"/>
<circle cx="113.4" cy="360.6" r="2.85"/>
<circle cx="115.3" cy="418.4" r="2.85"/>
<circle cx="116.9" cy="360.6" r="2.85"/>
<circle cx="117.2" cy="360.6" r="2.85"/>
<circle cx="117.7" cy="360.6" r="2.85"/>
<circle cx="118.2" cy="360.0" r="2.85"/>
<circle cx="118.7" cy="361.2" r="2.85"/>
<circle cx="119.2" cy="360.3" r="2.85"/>
<circle cx="119.5" cy="353.2" r="2.85"/>
<circle cx="120.0" cy="353.1" r="2.85"/>
<circle cx="120.5" cy="353.3" r="2.85"/>
<circle cx="121.0" cy="354.0" r="2.85"/>
<circle cx="121.5" cy="353.0" r="2.85"/>
<circle cx="123.3" cy="266.3" r="2.85"/>
<circle cx="124.6" cy="353.6" r="2.85"/>
<circle cx="124.9" cy="353.8" r="2.85"/>
<circle cx="125.4" cy="353.2" r="2.85"/>
<circle cx="125.9" cy="353.0" r="2.85"/>
<circle cx="126.4" cy="353.7" r="2.85"/>
<circle cx="126.9" cy="353.7" r="2.85"/>
<circle cx="127.4" cy="353.6" r="2.85"/>
<circle cx="127.9" cy="353.8" r="2.85"/>
<circle cx="128.4" cy="353.1" r="2.85"/>
<circle cx="130.3" cy="266.3" r="2.85"/>
<circle cx="132.1" cy="353.6" r="2.85"/>
<circle cx="132.4" cy="353.9" r="2.85"/>
<circle cx="132.9" cy="353.1" r="2.85"/>
<circle cx="133.4" cy="353.1" r="2.85"/>
<circle cx="133.9" cy="353.6" r="2.85"/>
<circle cx="134.4" cy="353.6" r="2.85"/>
<circle cx="134.5" cy="360.3" r="2.85"/>
<circle cx="135.0" cy="360.1" r="2.85"/>
<circle cx="135.5" cy="360.5" r="2.85"/>
<circle cx="136.0" cy="360.2" r="2.85"/>
<circle cx="136.5" cy="360.7" r="2.85"/>
<circle cx="137.0" cy="361.0" r="2.85"/>
<circle cx="138.2" cy="392.0" r="2.85"/>
<circle cx="139.0" cy="418.4" r="2.85"/>
<circle cx="140.3" cy="360.6" r="2.85"/>
<circle cx="140.6" cy="360.7" r="2.85"/>
<circle cx="141.1" cy="360.9" r="2.85"/>
<circle cx="141.6" cy="360.2" r="2.85"/>
<circle cx="142.1" cy="361.0" r="2.85"/>
<circle cx="142.6" cy="361.1" r="2.85"/>
<circle cx="143.1" cy="360.5" r="2.85"/>
<circle cx="143.6" cy="360.5" r="2.85"/>
<circle cx="144.1" cy="361.0" r="2.85"/>
<circle cx="146.2" cy="418.4" r="2.85"/>
<circle cx="147.8" cy="360.6" r="2.85"/>
<circle cx="148.1" cy="360.5" r="2.85"/>
<circle cx="148.6" cy="361.1" r="2.85"/>
<circle cx="149.1" cy="360.9" r="2.85"/>
<circle cx="149.6" cy="360.4" r="2.85"/>
<circle cx="150.0" cy="353.3" r="2.85"/>
<circle cx="150.5" cy="353.4" r="2.85"/>
<circle cx="151.0" cy="353.5" r="2.85"/>
<circle cx="151.5" cy="354.2" r="2.85"/>
<circle cx="152.0" cy="354.0" r="2.85"/>
<circle cx="154.0" cy="266.3" r="2.85"/>
<circle cx="155.8" cy="353.6" r="2.85"/>
<circle cx="156.1" cy="354.0" r="2.85"/>
<circle cx="156.6" cy="354.0" r="2.85"/>
<circle cx="157.1" cy="353.1" r="2.85"/>
<circle cx="157.6" cy="353.6" r="2.85"/>
<circle cx="158.1" cy="354.1" r="2.85"/>
<circle cx="158.3" cy="361.1" r="2.85"/>
<circle cx="158.8" cy="360.3" r="2.85"/>
<circle cx="159.3" cy="360.5" r="2.85"/>
<circle cx="159.8" cy="360.8" r="2.85"/>
<circle cx="161.8" cy="418.4" r="2.85"/>
<circle cx="163.3" cy="360.6" r="2.85"/>
<circle cx="163.6" cy="360.6" r="2.85"/>
<circle cx="164.1" cy="360.1" r="2.85"/>
<circle cx="164.6" cy="360.5" r="2.85"/>
<circle cx="165.1" cy="360.6" r="2.85"/>
<circle cx="165.6" cy="360.0" r="2.85"/>
<circle cx="166.1" cy="360.2" r="2.85"/>
<circle cx="166.6" cy="361.2" r="2.85"/>
<circle cx="167.1" cy="360.9" r="2.85"/>
<circle cx="167.6" cy="361.1" r="2.85"/>
<circle cx="168.1" cy="360.8" r="2.85"/>
<circle cx="168.6" cy="361.0" r="2.85"/>
<circle cx="170.3" cy="418.4" r="2.85"/>
<circle cx="172.1" cy="360.6" r="2.85"/>
<circle cx="172.4" cy="361.1" r="2.85"/>
<circle cx="172.9" cy="360.0" r="2.85"/>
<circle cx="173.4" cy="360.8" r="2.85"/>
<circle cx="173.9" cy="360.3" r="2.85"/>
<circle cx="174.4" cy="360.8" r="2.85"/>
<circle cx="174.9" cy="360.3" r="2.85"/>
<circle cx="175.4" cy="360.7" r="2.85"/>
<circle cx="175.9" cy="361.1" r="2.85"/>
<circle cx="176.4" cy="360.7" r="2.85"/>
<circle cx="178.5" cy="418.4" r="2.85"/>
<circle cx="179.9" cy="360.6" r="2.85"/>
<circle cx="180.2" cy="360.6" r="2.85"/>
<circle cx="180.7" cy="360.5" r="2.85"/>
<circle cx="181.2" cy="361.1" r="2.85"/>
<circle cx="181.7" cy="360.3" r="2.85"/>
<circle cx="182.2" cy="360.4" r="2.85"/>
<circle cx="182.5" cy="353.8" r="2.85"/>
<circle cx="183.0" cy="353.1" r="2.85"/>
<circle cx="183.5" cy="353.7" r="2.85"/>
<circle cx="184.0" cy="354.1" r="2.85"/>
<circle cx="184.5" cy="353.6" r="2.85"/>
<circle cx="186.6" cy="266.3" r="2.85"/>
<circle cx="188.0" cy="353.6" r="2.85"/>
<circle cx="188.3" cy="353.6" r="2.85"/>
<circle cx="188.8" cy="353.6" r="2.85"/>
<circle cx="189.3" cy="353.2" r="2.85"/>
<circle cx="189.8" cy="353.1" r="2.85"/>
<circle cx="190.3" cy="353.2" r="2.85"/>
<circle cx="190.8" cy="353.4" r="2.85"/>
<circle cx="191.3" cy="353.5" r="2.85"/>
<circle cx="191.8" cy="353.3" r="2.85"/>
<circle cx="192.3" cy="353.3" r="2.85"/>
<circle cx="193.6" cy="344.5" r="2.85"/>
<circle cx="194.4" cy="266.3" r="2.85"/>
<circle cx="195.7" cy="353.6" r="2.85"/>
<circle cx="196.0" cy="353.7" r="2.85"/>
<circle cx="196.5" cy="354.0" r="2.85"/>
<circle cx="197.0" cy="353.7" r="2.85"/>
<circle cx="197.5" cy="353.7" r="2.85"/>
<circle cx="198.0" cy="353.8" r="2.85"/>
<circle cx="198.0" cy="360.2" r="2.85"/>
<circle cx="198.5" cy="360.9" r="2.85"/>
<circle cx="199.0" cy="360.6" r="2.85"/>
<circle cx="199.5" cy="360.7" r="2.85"/>
<circle cx="201.2" cy="418.4" r="2.85"/>
<circle cx="202.8" cy="360.6" r="2.85"/>
<circle cx="203.1" cy="360.6" r="2.85"/>
<circle cx="203.6" cy="360.4" r="2.85"/>
<circle cx="204.1" cy="360.3" r="2.85"/>
<circle cx="204.6" cy="360.3" r="2.85"/>
<circle cx="205.1" cy="360.6" r="2.85"/>
<circle cx="205.6" cy="360.5" r="2.85"/>
<circle cx="206.1" cy="360.7" r="2.85"/>
<circle cx="206.6" cy="360.0" r="2.85"/>
<circle cx="207.1" cy="360.4" r="2.85"/>
<circle cx="207.7" cy="397.8" r="2.85"/>
<circle cx="209.0" cy="418.4" r="2.85"/>
<circle cx="210.8" cy="360.6" r="2.85"/>
<circle cx="211.1" cy="360.3" r="2.85"/>
<circle cx="211.6" cy="360.7" r="2.85"/>
<circle cx="212.1" cy="360.6" r="2.85"/>
<circle cx="212.6" cy="360.3" r="2.85"/>
<circle cx="213.1" cy="361.2" r="2.85"/>
<circle cx="213.6" cy="360.4" r="2.85"/>
<circle cx="214.1" cy="360.9" r="2.85"/>
<circle cx="214.6" cy="360.2" r="2.85"/>
<circle cx="216.6" cy="418.4" r="2.85"/>
<circle cx="217.3" cy="371.4" r="2.85"/>
<circle cx="217.8" cy="360.6" r="2.85"/>
<circle cx="218.1" cy="361.0" r="2.85"/>
<circle cx="218.6" cy="360.5" r="2.85"/>
<circle cx="219.1" cy="360.1" r="2.85"/>
<circle cx="219.6" cy="360.5" r="2.85"/>
<circle cx="220.1" cy="360.5" r="2.85"/>
<circle cx="220.6" cy="360.9" r="2.85"/>
<circle cx="221.1" cy="360.1" r="2.85"/>
<circle cx="221.6" cy="360.3" r="2.85"/>
<circle cx="222.1" cy="361.2" r="2.85"/>
<circle cx="223.9" cy="418.4" r="2.85"/>
<circle cx="225.1" cy="379.1" r="2.85"/>
<circle cx="225.6" cy="360.6" r="2.85"/>
<circle cx="225.9" cy="360.2" r="2.85"/>
<circle cx="226.4" cy="360.4" r="2.85"/>
<circle cx="226.9" cy="360.4" r="2.85"/>
<circle cx="227.4" cy="360.8" r="2.85"/>
<circle cx="227.9" cy="360.7" r="2.85"/>
<circle cx="228.4" cy="361.0" r="2.85"/>
<circle cx="228.9" cy="361.0" r="2.85"/>
<circle cx="229.4" cy="360.6" r="2.85"/>
<circle cx="231.4" cy="418.4" r="2.85"/>
<circle cx="232.6" cy="407.5" r="2.85"/>
<circle cx="233.1" cy="360.6" r="2.85"/>
<circle cx="233.4" cy="360.9" r="2.85"/>
<circle cx="233.9" cy="360.9" r="2.85"/>
<circle cx="234.4" cy="360.6" r="2.85"/>
<circle cx="234.9" cy="360.9" r="2.85"/>
<circle cx="235.4" cy="360.9" r="2.85"/>
<circle cx="235.9" cy="361.1" r="2.85"/>
<circle cx="236.4" cy="360.2" r="2.85"/>
<circle cx="236.9" cy="361.0" r="2.85"/>
<circle cx="237.4" cy="360.0" r="2.85"/>
<circle cx="237.9" cy="360.9" r="2.85"/>
<circle cx="240.0" cy="418.4" r="2.85"/>
<circle cx="241.6" cy="360.6" r="2.85"/>
<circle cx="241.9" cy="360.6" r="2.85"/>
<circle cx="242.4" cy="361.2" r="2.85"/>
<circle cx="242.9" cy="360.7" r="2.85"/>
<circle cx="243.4" cy="360.5" r="2.85"/>
<circle cx="243.5" cy="353.9" r="2.85"/>
<circle cx="244.0" cy="354.0" r="2.85"/>
<circle cx="244.5" cy="353.7" r="2.85"/>
<circle cx="245.0" cy="353.5" r="2.85"/>
<circle cx="245.5" cy="353.5" r="2.85"/>
<circle cx="247.4" cy="266.3" r="2.85"/>
<circle cx="248.9" cy="353.6" r="2.85"/>
<circle cx="249.2" cy="353.9" r="2.85"/>
<circle cx="249.7" cy="353.4" r="2.85"/>
<circle cx="250.2" cy="353.5" r="2.85"/>
<circle cx="250.7" cy="353.7" r="2.85"/>
<circle cx="251.2" cy="353.5" r="2.85"/>
<circle cx="251.7" cy="353.4" r="2.85"/>
<circle cx="252.2" cy="353.9" r="2.85"/>
<circle cx="252.7" cy="354.0" r="2.85"/>
<circle cx="253.2" cy="353.6" r="2.85"/>
<circle cx="253.7" cy="353.5" r="2.85"/>
<circle cx="254.2" cy="353.2" r="2.85"/>
<circle cx="254.7" cy="353.4" r="2.85"/>
<circle cx="255.6" cy="330.9" r="2.85"/>
<circle cx="256.4" cy="266.3" r="2.85"/>
<circle cx="257.7" cy="353.6" r="2.85"/>
<circle cx="258.0" cy="353.7" r="2.85"/>
<circle cx="258.5" cy="353.7" r="2.85"/>
<circle cx="259.0" cy="353.1" r="2.85"/>
<circle cx="259.5" cy="354.1" r="2.85"/>
<circle cx="260.0" cy="353.4" r="2.85"/>
<circle cx="260.5" cy="361.0" r="2.85"/>
<circle cx="261.0" cy="361.0" r="2.85"/>
<circle cx="261.5" cy="361.2" r="2.85"/>
<circle cx="262.0" cy="360.2" r="2.85"/>
<circle cx="262.5" cy="360.5" r="2.85"/>
<circle cx="264.3" cy="418.4" r="2.85"/>
<circle cx="266.1" cy="360.6" r="2.85"/>
<circle cx="266.4" cy="360.0" r="2.85"/>
<circle cx="266.9" cy="360.1" r="2.85"/>
<circle cx="267.4" cy="360.7" r="2.85"/>
<circle cx="267.9" cy="360.6" r="2.85"/>
<circle cx="268.4" cy="361.1" r="2.85"/>
<circle cx="268.9" cy="360.9" r="2.85"/>
<circle cx="269.4" cy="360.6" r="2.85"/>
<circle cx="269.9" cy="361.2" r="2.85"/>
<circle cx="270.4" cy="360.6" r="2.85"/>
<circle cx="270.9" cy="360.6" r="2.85"/>
<circle cx="272.8" cy="418.4" r="2.85"/>
<circle cx="274.5" cy="360.6" r="2.85"/>
<circle cx="274.8" cy="360.5" r="2.85"/>
<circle cx="275.3" cy="360.4" r="2.85"/>
<circle cx="275.8" cy="360.7" r="2.85"/>
<circle cx="276.3" cy="360.4" r="2.85"/>
<circle cx="276.8" cy="361.1" r="2.85"/>
<circle cx="277.3" cy="360.8" r="2.85"/>
<circle cx="277.8" cy="360.6" r="2.85"/>
<circle cx="278.3" cy="360.1" r="2.85"/>
<circle cx="278.8" cy="360.4" r="2.85"/>
<circle cx="279.3" cy="360.5" r="2.85"/>
<circle cx="281.3" cy="418.4" r="2.85"/>
<circle cx="282.9" cy="360.6" r="2.85"/>
<circle cx="283.2" cy="360.7" r="2.85"/>
<circle cx="283.7" cy="361.1" r="2.85"/>
<circle cx="284.2" cy="361.2" r="2.85"/>
<circle cx="284.7" cy="360.6" r="2.85"/>
<circle cx="285.2" cy="360.5" r="2.85"/>
<circle cx="285.7" cy="360.7" r="2.85"/>
<circle cx="286.2" cy="361.2" r="2.85"/>
<circle cx="286.7" cy="360.4" r="2.85"/>
<circle cx="287.2" cy="360.6" r="2.85"/>
<circle cx="288.0" cy="389.2" r="2.85"/>
<circle cx="289.3" cy="418.4" r="2.85"/>
<circle cx="291.1" cy="360.6" r="2.85"/>
<circle cx="291.4" cy="360.2" r="2.85"/>
<circle cx="291.9" cy="360.4" r="2.85"/>
<circle cx="292.4" cy="361.2" r="2.85"/>
<circle cx="292.9" cy="361.0" r="2.85"/>
<circle cx="293.4" cy="360.6" r="2.85"/>
<circle cx="293.9" cy="360.1" r="2.85"/>
<circle cx="294.4" cy="361.1" r="2.85"/>
<circle cx="294.9" cy="360.8" r="2.85"/>
<circle cx="295.4" cy="361.0" r="2.85"/>
<circle cx="295.9" cy="361.2" r="2.85"/>
<circle cx="296.4" cy="361.1" r="2.85"/>
<circle cx="298.4" cy="418.4" r="2.85"/>
<circle cx="299.9" cy="360.6" r="2.85"/>
<circle cx="300.2" cy="360.2" r="2.85"/>
<circle cx="300.7" cy="360.3" r="2.85"/>
<circle cx="301.2" cy="360.6" r="2.85"/>
<circle cx="301.7" cy="360.6" r="2.85"/>
<circle cx="302.2" cy="360.2" r="2.85"/>
<circle cx="302.7" cy="360.2" r="2.85"/>
<circle cx="303.2" cy="360.8" r="2.85"/>
<circle cx="303.7" cy="360.7" r="2.85"/>
<circle cx="304.2" cy="360.4" r="2.85"/>
<circle cx="304.7" cy="361.2" r="2.85"/>
<circle cx="305.2" cy="360.8" r="2.85"/>
<circle cx="307.3" cy="418.4" r="2.85"/>
<circle cx="308.0" cy="375.6" r="2.85"/>
<circle cx="308.5" cy="360.6" r="2.85"/>
<circle cx="308.8" cy="360.5" r="2.85"/>
<circle cx="309.3" cy="360.9" r="2.85"/>
<circle cx="309.8" cy="360.4" r="2.85"/>
<circle cx="310.3" cy="360.8" r="2.85"/>
<circle cx="310.8" cy="360.0" r="2.85"/>
<circle cx="311.3" cy="360.4" r="2.85"/>
<circle cx="311.8" cy="361.0" r="2.85"/>
<circle cx="312.3" cy="360.7" r="2.85"/>
<circle cx="312.8" cy="360.8" r="2.85"/>
<circle cx="313.3" cy="360.2" r="2.85"/>
<circle cx="313.8" cy="360.6" r="2.85"/>
<circle cx="314.3" cy="360.7" r="2.85"/>
<circle cx="314.8" cy="360.3" r="2.85"/>
<circle cx="315.3" cy="360.8" r="2.85"/>
<circle cx="315.8" cy="360.6" r="2.85"/>
<circle cx="316.3" cy="361.2" r="2.85"/>
<circle cx="316.8" cy="360.7" r="2.85"/>
<circle cx="317.3" cy="360.5" r="2.85"/>
<circle cx="317.8" cy="360.1" r="2.85"/>
<circle cx="318.3" cy="360.2" r="2.85"/>
<circle cx="318.8" cy="360.9" r="2.85"/>
<circle cx="319.3" cy="360.1" r="2.85"/>
<circle cx="319.8" cy="360.1" r="2.85"/>
<circle cx="320.3" cy="360.2" r="2.85"/>
<circle cx="320.8" cy="360.6" r="2.85"/>
<circle cx="321.3" cy="361.0" r="2.85"/>
<circle cx="321.8" cy="360.7" r="2.85"/>
<circle cx="322.3" cy="361.0" r="2.85"/>
</g>
<path d="M439.7,365.1 L439.7,439.2 L440.5,439.2 L441.1,373.5 L441.1,365.1 L441.6,364.5 L442.1,365.4 L442.6,364.9 L443.1,365.4 L443.6,364.9 L444.1,364.7 L444.6,364.8 L445.1,364.6 L445.4,365.1 L445.4,439.2 L447.4,439.2 L448.0,391.0 L448.0,365.1 L448.5,365.2 L449.0,364.9 L449.5,365.0 L449.6,359.8 L450.1,359.4 L450.6,360.4 L451.2,359.9 L451.2,274.1 L452.8,274.1 L453.4,336.0 L453.4,359.9 L453.9,360.5 L454.4,359.8 L454.9,360.0 L455.4,359.6 L455.9,359.4 L456.4,360.4 L456.9,360.3 L457.7,359.9 L457.7,274.1 L458.9,274.1 L459.5,350.0 L459.5,359.9 L460.0,360.4 L460.5,360.3 L461.0,364.9 L461.5,365.1 L461.5,439.2 L463.7,439.2 L463.7,365.1 L464.2,365.7 L464.7,365.1 L465.2,365.6 L465.7,364.8 L466.2,365.0 L466.7,365.4 L467.2,364.8 L468.0,365.1 L468.0,439.2 L469.2,439.2 L469.8,413.5 L469.8,365.1 L470.3,365.6 L470.8,365.1 L471.3,365.5 L471.5,359.6 L472.0,359.5 L472.5,359.7 L473.4,359.9 L473.4,274.1 L474.4,274.1 L475.0,342.5 L475.0,359.9 L475.5,360.5 L476.0,359.6 L476.5,360.0 L477.0,359.4 L477.5,359.9 L478.0,359.8 L478.5,359.8 L479.5,359.9 L479.5,274.1 L480.9,274.1 L480.9,359.9 L481.4,359.4 L481.9,360.3 L482.4,359.7 L482.9,359.6 L483.4,359.5 L483.9,359.6 L484.4,359.6 L484.9,359.3 L485.3,359.9 L485.3,351.5 L485.9,274.1 L487.7,274.1 L487.7,359.9 L488.2,359.7 L488.7,359.5 L489.2,360.1 L489.3,364.6 L489.8,364.8 L490.3,365.5 L490.9,365.1 L490.9,416.5 L491.5,439.2 L492.5,439.2 L492.5,365.1 L493.0,365.0 L493.5,365.5 L494.0,365.5 L494.5,364.7 L495.0,364.9 L495.5,365.4 L496.0,365.0 L496.5,365.7 L497.1,365.1 L497.1,439.2 L498.7,439.2 L498.7,365.1 L499.2,365.6 L499.7,365.1 L500.2,364.8 L500.3,359.8 L500.8,359.5 L501.4,359.9 L501.4,274.1 L503.2,274.1 L503.8,318.0 L503.8,359.9 L504.3,359.6 L504.8,360.4 L505.3,360.0 L505.8,359.7 L506.3,359.6 L506.8,360.0 L507.3,359.6 L507.8,360.3 L508.5,359.9 L508.5,274.1 L510.1,274.1 L510.1,359.9 L510.6,359.9 L511.1,360.0 L511.6,359.6 L512.1,360.2 L512.6,359.8 L513.1,360.1 L513.6,360.0 L514.4,359.9 L514.4,274.1 L516.2,274.1 L516.2,359.9 L516.7,359.8 L517.2,359.4 L517.7,359.5 L518.2,360.3 L518.7,359.7 L519.2,360.1 L519.7,359.4 L520.2,360.0 L520.6,359.9 L520.6,315.3 L521.2,274.1 L522.6,274.1 L522.6,359.9 L523.1,359.9 L523.6,359.7 L524.1,359.4 L524.6,359.7 L525.1,359.6 L525.6,359.5 L526.1,359.9 L526.1,274.1 L528.5,274.1 L528.5,359.9 L529.0,359.6 L529.5,359.8 L530.0,365.6 L530.5,365.4 L531.0,365.6 L531.2,365.1 L531.2,439.2 L533.8,439.2 L533.8,365.1 L534.3,364.7 L534.8,364.8 L535.3,364.5 L535.8,365.3 L536.3,365.3 L536.8,364.9 L537.3,365.0 L537.5,365.1 L537.5,439.2 L539.3,439.2 L539.9,387.0 L539.9,365.1 L540.4,365.3 L540.9,364.8 L541.2,360.3 L541.7,359.7 L542.4,359.9 L542.4,274.1 L544.0,274.1 L544.6,316.0 L544.6,359.9 L545.1,359.5 L545.6,359.4 L546.1,360.4 L546.6,360.2 L547.1,360.2 L547.6,359.3 L548.5,359.9 L548.5,274.1 L549.9,274.1 L549.9,359.9 L550.4,359.5 L550.9,359.5 L551.4,359.7 L551.9,359.8 L552.4,359.3 L552.9,359.7 L553.4,360.1 L554.1,359.9 L554.1,274.1 L555.7,274.1 L555.7,359.9 L556.2,360.3 L556.7,360.0 L557.2,360.2 L557.7,359.6 L558.2,359.8 L558.7,360.1 L559.2,359.7 L559.9,359.9 L559.9,274.1 L561.3,274.1 L561.3,359.9 L561.8,360.3 L562.3,360.2 L562.8,359.6 L563.3,359.4 L563.8,360.3 L564.3,360.0 L564.8,359.4 L565.4,359.9 L565.4,274.1 L567.2,274.1 L567.2,359.9 L567.7,359.4 L568.2,360.2 L568.7,359.6 L569.2,360.4 L569.7,360.2 L570.2,359.4 L570.8,359.9 L570.8,274.1 L573.2,274.1 L573.2,359.9 L573.7,359.8 L574.2,360.2 L574.6,365.5 L575.1,364.8 L575.6,364.6 L575.6,365.1 L575.6,381.0 L576.2,439.2 L578.4,439.2 L578.4,365.1 L578.9,365.0 L579.4,365.6 L579.9,365.3 L580.4,365.4 L580.9,365.5 L581.4,365.3 L581.9,365.0 L582.6,365.1 L582.6,439.2 L584.0,439.2 L584.0,365.1 L584.5,365.3 L585.0,365.0 L585.5,365.1 L586.0,365.6 L586.5,364.7 L587.0,365.4 L587.5,364.6 L588.1,365.1 L588.1,439.2 L590.5,439.2 L590.5,365.1 L591.0,365.5 L591.5,364.8 L592.0,365.2 L592.5,365.7 L593.0,365.3 L593.5,365.2 L594.0,364.8 L594.7,365.1 L594.7,439.2 L596.1,439.2 L596.1,365.1 L596.6,364.9 L597.1,365.0 L597.6,364.7 L598.0,359.7 L598.5,359.5 L599.0,360.1 L599.3,359.9 L599.3,274.1 L601.7,274.1 L601.7,359.9 L602.2,359.6 L602.7,359.6 L603.2,359.9 L603.7,359.8 L604.2,360.4 L604.7,359.7 L605.2,359.7 L605.4,359.9 L605.4,274.1 L608.0,274.1 L608.0,359.9 L608.5,359.5 L609.0,360.0 L609.5,359.7 L610.0,360.3 L610.5,360.0 L611.0,360.2 L612.0,359.9 L612.0,274.1 L613.6,274.1 L613.6,359.9 L614.1,360.1 L614.6,360.0 L615.1,359.9 L615.6,360.2 L616.1,360.3 L616.6,359.4 L617.1,359.6 L617.5,359.9 L617.5,274.1 L619.5,274.1 L619.5,359.9 L620.0,359.5 L620.5,359.4 L621.0,359.6 L621.5,359.5 L622.0,360.1 L622.5,359.8 L623.0,359.4 L623.7,359.9 L623.7,274.1 L625.5,274.1 L625.5,359.9 L626.0,359.9 L626.5,359.7 L627.0,359.5 L627.5,359.4 L628.0,359.3 L628.5,360.5 L629.0,360.2 L630.0,359.9 L630.0,274.1 L631.0,274.1 L631.6,344.0 L631.6,359.9 L632.1,360.2 L632.6,360.5 L633.1,360.0 L633.6,359.4 L634.1,359.9 L634.6,359.8 L635.1,359.5 L635.6,360.0 L636.1,359.3 L636.6,360.4 L637.1,360.1 L637.6,360.1 L638.1,360.4 L638.6,360.1 L639.1,359.6 L639.6,359.6 L640.1,359.5 L640.6,359.3 L641.1,360.2 L641.6,360.3 L642.1,359.7 L642.6,359.5 L643.1,360.1 L643.6,360.3 L644.1,360.4 L644.6,359.5 L645.1,360.2 L645.6,360.3 L646.1,360.2 L646.6,359.7 L647.1,359.5 L647.6,360.3 L648.1,359.7 L648.6,359.7 L649.1,360.0 L649.6,359.7 L650.1,360.3 L650.6,359.6" fill="none" stroke="#ff0000" stroke-width="1.55" stroke-linejoin="miter"/>
<g fill="#fff" stroke="#ff0000" stroke-width="1.45">
<circle cx="440.4" cy="439.2" r="2.85"/>
<circle cx="440.8" cy="373.5" r="2.85"/>
<circle cx="441.3" cy="365.1" r="2.85"/>
<circle cx="441.6" cy="364.5" r="2.85"/>
<circle cx="442.1" cy="365.4" r="2.85"/>
<circle cx="442.6" cy="364.9" r="2.85"/>
<circle cx="443.1" cy="365.4" r="2.85"/>
<circle cx="443.6" cy="364.9" r="2.85"/>
<circle cx="444.1" cy="364.7" r="2.85"/>
<circle cx="444.6" cy="364.8" r="2.85"/>
<circle cx="445.1" cy="364.6" r="2.85"/>
<circle cx="446.7" cy="439.2" r="2.85"/>
<circle cx="447.7" cy="391.0" r="2.85"/>
<circle cx="448.2" cy="365.1" r="2.85"/>
<circle cx="448.5" cy="365.2" r="2.85"/>
<circle cx="449.0" cy="364.9" r="2.85"/>
<circle cx="449.5" cy="365.0" r="2.85"/>
<circle cx="449.6" cy="359.8" r="2.85"/>
<circle cx="450.1" cy="359.4" r="2.85"/>
<circle cx="450.6" cy="360.4" r="2.85"/>
<circle cx="452.3" cy="274.1" r="2.85"/>
<circle cx="453.1" cy="336.0" r="2.85"/>
<circle cx="453.6" cy="359.9" r="2.85"/>
<circle cx="453.9" cy="360.5" r="2.85"/>
<circle cx="454.4" cy="359.8" r="2.85"/>
<circle cx="454.9" cy="360.0" r="2.85"/>
<circle cx="455.4" cy="359.6" r="2.85"/>
<circle cx="455.9" cy="359.4" r="2.85"/>
<circle cx="456.4" cy="360.4" r="2.85"/>
<circle cx="456.9" cy="360.3" r="2.85"/>
<circle cx="458.6" cy="274.1" r="2.85"/>
<circle cx="459.2" cy="350.0" r="2.85"/>
<circle cx="459.7" cy="359.9" r="2.85"/>
<circle cx="460.0" cy="360.4" r="2.85"/>
<circle cx="460.5" cy="360.3" r="2.85"/>
<circle cx="461.0" cy="364.9" r="2.85"/>
<circle cx="462.6" cy="439.2" r="2.85"/>
<circle cx="463.9" cy="365.1" r="2.85"/>
<circle cx="464.2" cy="365.7" r="2.85"/>
<circle cx="464.7" cy="365.1" r="2.85"/>
<circle cx="465.2" cy="365.6" r="2.85"/>
<circle cx="465.7" cy="364.8" r="2.85"/>
<circle cx="466.2" cy="365.0" r="2.85"/>
<circle cx="466.7" cy="365.4" r="2.85"/>
<circle cx="467.2" cy="364.8" r="2.85"/>
<circle cx="468.9" cy="439.2" r="2.85"/>
<circle cx="469.5" cy="413.5" r="2.85"/>
<circle cx="470.0" cy="365.1" r="2.85"/>
<circle cx="470.3" cy="365.6" r="2.85"/>
<circle cx="470.8" cy="365.1" r="2.85"/>
<circle cx="471.3" cy="365.5" r="2.85"/>
<circle cx="471.5" cy="359.6" r="2.85"/>
<circle cx="472.0" cy="359.5" r="2.85"/>
<circle cx="472.5" cy="359.7" r="2.85"/>
<circle cx="474.2" cy="274.1" r="2.85"/>
<circle cx="474.7" cy="342.5" r="2.85"/>
<circle cx="475.2" cy="359.9" r="2.85"/>
<circle cx="475.5" cy="360.5" r="2.85"/>
<circle cx="476.0" cy="359.6" r="2.85"/>
<circle cx="476.5" cy="360.0" r="2.85"/>
<circle cx="477.0" cy="359.4" r="2.85"/>
<circle cx="477.5" cy="359.9" r="2.85"/>
<circle cx="478.0" cy="359.8" r="2.85"/>
<circle cx="478.5" cy="359.8" r="2.85"/>
<circle cx="480.2" cy="274.1" r="2.85"/>
<circle cx="481.1" cy="359.9" r="2.85"/>
<circle cx="481.4" cy="359.4" r="2.85"/>
<circle cx="481.9" cy="360.3" r="2.85"/>
<circle cx="482.4" cy="359.7" r="2.85"/>
<circle cx="482.9" cy="359.6" r="2.85"/>
<circle cx="483.4" cy="359.5" r="2.85"/>
<circle cx="483.9" cy="359.6" r="2.85"/>
<circle cx="484.4" cy="359.6" r="2.85"/>
<circle cx="484.9" cy="359.3" r="2.85"/>
<circle cx="485.6" cy="351.5" r="2.85"/>
<circle cx="486.5" cy="274.1" r="2.85"/>
<circle cx="487.9" cy="359.9" r="2.85"/>
<circle cx="488.2" cy="359.7" r="2.85"/>
<circle cx="488.7" cy="359.5" r="2.85"/>
<circle cx="489.2" cy="360.1" r="2.85"/>
<circle cx="489.3" cy="364.6" r="2.85"/>
<circle cx="489.8" cy="364.8" r="2.85"/>
<circle cx="490.3" cy="365.5" r="2.85"/>
<circle cx="491.2" cy="416.5" r="2.85"/>
<circle cx="491.7" cy="439.2" r="2.85"/>
<circle cx="492.7" cy="365.1" r="2.85"/>
<circle cx="493.0" cy="365.0" r="2.85"/>
<circle cx="493.5" cy="365.5" r="2.85"/>
<circle cx="494.0" cy="365.5" r="2.85"/>
<circle cx="494.5" cy="364.7" r="2.85"/>
<circle cx="495.0" cy="364.9" r="2.85"/>
<circle cx="495.5" cy="365.4" r="2.85"/>
<circle cx="496.0" cy="365.0" r="2.85"/>
<circle cx="496.5" cy="365.7" r="2.85"/>
<circle cx="497.9" cy="439.2" r="2.85"/>
<circle cx="498.9" cy="365.1" r="2.85"/>
<circle cx="499.2" cy="365.6" r="2.85"/>
<circle cx="499.7" cy="365.1" r="2.85"/>
<circle cx="500.2" cy="364.8" r="2.85"/>
<circle cx="500.3" cy="359.8" r="2.85"/>
<circle cx="500.8" cy="359.5" r="2.85"/>
<circle cx="502.6" cy="274.1" r="2.85"/>
<circle cx="503.5" cy="318.0" r="2.85"/>
<circle cx="504.0" cy="359.9" r="2.85"/>
<circle cx="504.3" cy="359.6" r="2.85"/>
<circle cx="504.8" cy="360.4" r="2.85"/>
<circle cx="505.3" cy="360.0" r="2.85"/>
<circle cx="505.8" cy="359.7" r="2.85"/>
<circle cx="506.3" cy="359.6" r="2.85"/>
<circle cx="506.8" cy="360.0" r="2.85"/>
<circle cx="507.3" cy="359.6" r="2.85"/>
<circle cx="507.8" cy="360.3" r="2.85"/>
<circle cx="509.3" cy="274.1" r="2.85"/>
<circle cx="510.3" cy="359.9" r="2.85"/>
<circle cx="510.6" cy="359.9" r="2.85"/>
<circle cx="511.1" cy="360.0" r="2.85"/>
<circle cx="511.6" cy="359.6" r="2.85"/>
<circle cx="512.1" cy="360.2" r="2.85"/>
<circle cx="512.6" cy="359.8" r="2.85"/>
<circle cx="513.1" cy="360.1" r="2.85"/>
<circle cx="513.6" cy="360.0" r="2.85"/>
<circle cx="515.3" cy="274.1" r="2.85"/>
<circle cx="516.4" cy="359.9" r="2.85"/>
<circle cx="516.7" cy="359.8" r="2.85"/>
<circle cx="517.2" cy="359.4" r="2.85"/>
<circle cx="517.7" cy="359.5" r="2.85"/>
<circle cx="518.2" cy="360.3" r="2.85"/>
<circle cx="518.7" cy="359.7" r="2.85"/>
<circle cx="519.2" cy="360.1" r="2.85"/>
<circle cx="519.7" cy="359.4" r="2.85"/>
<circle cx="520.2" cy="360.0" r="2.85"/>
<circle cx="520.9" cy="315.3" r="2.85"/>
<circle cx="521.6" cy="274.1" r="2.85"/>
<circle cx="522.8" cy="359.9" r="2.85"/>
<circle cx="523.1" cy="359.9" r="2.85"/>
<circle cx="523.6" cy="359.7" r="2.85"/>
<circle cx="524.1" cy="359.4" r="2.85"/>
<circle cx="524.6" cy="359.7" r="2.85"/>
<circle cx="525.1" cy="359.6" r="2.85"/>
<circle cx="525.6" cy="359.5" r="2.85"/>
<circle cx="527.3" cy="274.1" r="2.85"/>
<circle cx="528.7" cy="359.9" r="2.85"/>
<circle cx="529.0" cy="359.6" r="2.85"/>
<circle cx="529.5" cy="359.8" r="2.85"/>
<circle cx="530.0" cy="365.6" r="2.85"/>
<circle cx="530.5" cy="365.4" r="2.85"/>
<circle cx="531.0" cy="365.6" r="2.85"/>
<circle cx="532.5" cy="439.2" r="2.85"/>
<circle cx="534.0" cy="365.1" r="2.85"/>
<circle cx="534.3" cy="364.7" r="2.85"/>
<circle cx="534.8" cy="364.8" r="2.85"/>
<circle cx="535.3" cy="364.5" r="2.85"/>
<circle cx="535.8" cy="365.3" r="2.85"/>
<circle cx="536.3" cy="365.3" r="2.85"/>
<circle cx="536.8" cy="364.9" r="2.85"/>
<circle cx="537.3" cy="365.0" r="2.85"/>
<circle cx="538.7" cy="439.2" r="2.85"/>
<circle cx="539.6" cy="387.0" r="2.85"/>
<circle cx="540.1" cy="365.1" r="2.85"/>
<circle cx="540.4" cy="365.3" r="2.85"/>
<circle cx="540.9" cy="364.8" r="2.85"/>
<circle cx="541.2" cy="360.3" r="2.85"/>
<circle cx="541.7" cy="359.7" r="2.85"/>
<circle cx="543.5" cy="274.1" r="2.85"/>
<circle cx="544.3" cy="316.0" r="2.85"/>
<circle cx="544.8" cy="359.9" r="2.85"/>
<circle cx="545.1" cy="359.5" r="2.85"/>
<circle cx="545.6" cy="359.4" r="2.85"/>
<circle cx="546.1" cy="360.4" r="2.85"/>
<circle cx="546.6" cy="360.2" r="2.85"/>
<circle cx="547.1" cy="360.2" r="2.85"/>
<circle cx="547.6" cy="359.3" r="2.85"/>
<circle cx="549.2" cy="274.1" r="2.85"/>
<circle cx="550.1" cy="359.9" r="2.85"/>
<circle cx="550.4" cy="359.5" r="2.85"/>
<circle cx="550.9" cy="359.5" r="2.85"/>
<circle cx="551.4" cy="359.7" r="2.85"/>
<circle cx="551.9" cy="359.8" r="2.85"/>
<circle cx="552.4" cy="359.3" r="2.85"/>
<circle cx="552.9" cy="359.7" r="2.85"/>
<circle cx="553.4" cy="360.1" r="2.85"/>
<circle cx="554.9" cy="274.1" r="2.85"/>
<circle cx="555.9" cy="359.9" r="2.85"/>
<circle cx="556.2" cy="360.3" r="2.85"/>
<circle cx="556.7" cy="360.0" r="2.85"/>
<circle cx="557.2" cy="360.2" r="2.85"/>
<circle cx="557.7" cy="359.6" r="2.85"/>
<circle cx="558.2" cy="359.8" r="2.85"/>
<circle cx="558.7" cy="360.1" r="2.85"/>
<circle cx="559.2" cy="359.7" r="2.85"/>
<circle cx="560.6" cy="274.1" r="2.85"/>
<circle cx="561.5" cy="359.9" r="2.85"/>
<circle cx="561.8" cy="360.3" r="2.85"/>
<circle cx="562.3" cy="360.2" r="2.85"/>
<circle cx="562.8" cy="359.6" r="2.85"/>
<circle cx="563.3" cy="359.4" r="2.85"/>
<circle cx="563.8" cy="360.3" r="2.85"/>
<circle cx="564.3" cy="360.0" r="2.85"/>
<circle cx="564.8" cy="359.4" r="2.85"/>
<circle cx="566.3" cy="274.1" r="2.85"/>
<circle cx="567.4" cy="359.9" r="2.85"/>
<circle cx="567.7" cy="359.4" r="2.85"/>
<circle cx="568.2" cy="360.2" r="2.85"/>
<circle cx="568.7" cy="359.6" r="2.85"/>
<circle cx="569.2" cy="360.4" r="2.85"/>
<circle cx="569.7" cy="360.2" r="2.85"/>
<circle cx="570.2" cy="359.4" r="2.85"/>
<circle cx="572.0" cy="274.1" r="2.85"/>
<circle cx="573.4" cy="359.9" r="2.85"/>
<circle cx="573.7" cy="359.8" r="2.85"/>
<circle cx="574.2" cy="360.2" r="2.85"/>
<circle cx="574.6" cy="365.5" r="2.85"/>
<circle cx="575.1" cy="364.8" r="2.85"/>
<circle cx="575.6" cy="364.6" r="2.85"/>
<circle cx="575.9" cy="381.0" r="2.85"/>
<circle cx="577.0" cy="439.2" r="2.85"/>
<circle cx="578.6" cy="365.1" r="2.85"/>
<circle cx="578.9" cy="365.0" r="2.85"/>
<circle cx="579.4" cy="365.6" r="2.85"/>
<circle cx="579.9" cy="365.3" r="2.85"/>
<circle cx="580.4" cy="365.4" r="2.85"/>
<circle cx="580.9" cy="365.5" r="2.85"/>
<circle cx="581.4" cy="365.3" r="2.85"/>
<circle cx="581.9" cy="365.0" r="2.85"/>
<circle cx="583.3" cy="439.2" r="2.85"/>
<circle cx="584.2" cy="365.1" r="2.85"/>
<circle cx="584.5" cy="365.3" r="2.85"/>
<circle cx="585.0" cy="365.0" r="2.85"/>
<circle cx="585.5" cy="365.1" r="2.85"/>
<circle cx="586.0" cy="365.6" r="2.85"/>
<circle cx="586.5" cy="364.7" r="2.85"/>
<circle cx="587.0" cy="365.4" r="2.85"/>
<circle cx="587.5" cy="364.6" r="2.85"/>
<circle cx="589.3" cy="439.2" r="2.85"/>
<circle cx="590.7" cy="365.1" r="2.85"/>
<circle cx="591.0" cy="365.5" r="2.85"/>
<circle cx="591.5" cy="364.8" r="2.85"/>
<circle cx="592.0" cy="365.2" r="2.85"/>
<circle cx="592.5" cy="365.7" r="2.85"/>
<circle cx="593.0" cy="365.3" r="2.85"/>
<circle cx="593.5" cy="365.2" r="2.85"/>
<circle cx="594.0" cy="364.8" r="2.85"/>
<circle cx="595.4" cy="439.2" r="2.85"/>
<circle cx="596.3" cy="365.1" r="2.85"/>
<circle cx="596.6" cy="364.9" r="2.85"/>
<circle cx="597.1" cy="365.0" r="2.85"/>
<circle cx="597.6" cy="364.7" r="2.85"/>
<circle cx="598.0" cy="359.7" r="2.85"/>
<circle cx="598.5" cy="359.5" r="2.85"/>
<circle cx="599.0" cy="360.1" r="2.85"/>
<circle cx="600.5" cy="274.1" r="2.85"/>
<circle cx="601.9" cy="359.9" r="2.85"/>
<circle cx="602.2" cy="359.6" r="2.85"/>
<circle cx="602.7" cy="359.6" r="2.85"/>
<circle cx="603.2" cy="359.9" r="2.85"/>
<circle cx="603.7" cy="359.8" r="2.85"/>
<circle cx="604.2" cy="360.4" r="2.85"/>
<circle cx="604.7" cy="359.7" r="2.85"/>
<circle cx="605.2" cy="359.7" r="2.85"/>
<circle cx="606.7" cy="274.1" r="2.85"/>
<circle cx="608.2" cy="359.9" r="2.85"/>
<circle cx="608.5" cy="359.5" r="2.85"/>
<circle cx="609.0" cy="360.0" r="2.85"/>
<circle cx="609.5" cy="359.7" r="2.85"/>
<circle cx="610.0" cy="360.3" r="2.85"/>
<circle cx="610.5" cy="360.0" r="2.85"/>
<circle cx="611.0" cy="360.2" r="2.85"/>
<circle cx="612.8" cy="274.1" r="2.85"/>
<circle cx="613.8" cy="359.9" r="2.85"/>
<circle cx="614.1" cy="360.1" r="2.85"/>
<circle cx="614.6" cy="360.0" r="2.85"/>
<circle cx="615.1" cy="359.9" r="2.85"/>
<circle cx="615.6" cy="360.2" r="2.85"/>
<circle cx="616.1" cy="360.3" r="2.85"/>
<circle cx="616.6" cy="359.4" r="2.85"/>
<circle cx="617.1" cy="359.6" r="2.85"/>
<circle cx="618.5" cy="274.1" r="2.85"/>
<circle cx="619.7" cy="359.9" r="2.85"/>
<circle cx="620.0" cy="359.5" r="2.85"/>
<circle cx="620.5" cy="359.4" r="2.85"/>
<circle cx="621.0" cy="359.6" r="2.85"/>
<circle cx="621.5" cy="359.5" r="2.85"/>
<circle cx="622.0" cy="360.1" r="2.85"/>
<circle cx="622.5" cy="359.8" r="2.85"/>
<circle cx="623.0" cy="359.4" r="2.85"/>
<circle cx="624.6" cy="274.1" r="2.85"/>
<circle cx="625.7" cy="359.9" r="2.85"/>
<circle cx="626.0" cy="359.9" r="2.85"/>
<circle cx="626.5" cy="359.7" r="2.85"/>
<circle cx="627.0" cy="359.5" r="2.85"/>
<circle cx="627.5" cy="359.4" r="2.85"/>
<circle cx="628.0" cy="359.3" r="2.85"/>
<circle cx="628.5" cy="360.5" r="2.85"/>
<circle cx="629.0" cy="360.2" r="2.85"/>
<circle cx="630.8" cy="274.1" r="2.85"/>
<circle cx="631.3" cy="344.0" r="2.85"/>
<circle cx="631.8" cy="359.9" r="2.85"/>
<circle cx="632.1" cy="360.2" r="2.85"/>
<circle cx="632.6" cy="360.5" r="2.85"/>
<circle cx="633.1" cy="360.0" r="2.85"/>
<circle cx="633.6" cy="359.4" r="2.85"/>
<circle cx="634.1" cy="359.9" r="2.85"/>
<circle cx="634.6" cy="359.8" r="2.85"/>
<circle cx="635.1" cy="359.5" r="2.85"/>
<circle cx="635.6" cy="360.0" r="2.85"/>
<circle cx="636.1" cy="359.3" r="2.85"/>
<circle cx="636.6" cy="360.4" r="2.85"/>
<circle cx="637.1" cy="360.1" r="2.85"/>
<circle cx="637.6" cy="360.1" r="2.85"/>
<circle cx="638.1" cy="360.4" r="2.85"/>
<circle cx="638.6" cy="360.1" r="2.85"/>
<circle cx="639.1" cy="359.6" r="2.85"/>
<circle cx="639.6" cy="359.6" r="2.85"/>
<circle cx="640.1" cy="359.5" r="2.85"/>
<circle cx="640.6" cy="359.3" r="2.85"/>
<circle cx="641.1" cy="360.2" r="2.85"/>
<circle cx="641.6" cy="360.3" r="2.85"/>
<circle cx="642.1" cy="359.7" r="2.85"/>
<circle cx="642.6" cy="359.5" r="2.85"/>
<circle cx="643.1" cy="360.1" r="2.85"/>
<circle cx="643.6" cy="360.3" r="2.85"/>
<circle cx="644.1" cy="360.4" r="2.85"/>
<circle cx="644.6" cy="359.5" r="2.85"/>
<circle cx="645.1" cy="360.2" r="2.85"/>
<circle cx="645.6" cy="360.3" r="2.85"/>
<circle cx="646.1" cy="360.2" r="2.85"/>
<circle cx="646.6" cy="359.7" r="2.85"/>
<circle cx="647.1" cy="359.5" r="2.85"/>
<circle cx="647.6" cy="360.3" r="2.85"/>
<circle cx="648.1" cy="359.7" r="2.85"/>
<circle cx="648.6" cy="359.7" r="2.85"/>
<circle cx="649.1" cy="360.0" r="2.85"/>
<circle cx="649.6" cy="359.7" r="2.85"/>
<circle cx="650.1" cy="360.3" r="2.85"/>
<circle cx="650.6" cy="359.6" r="2.85"/>
</g>
<rect x="65.0" y="29.3" width="281.0" height="427.4" fill="none" stroke="#000" stroke-width="1.8"/>
<line x1="65.0" y1="242.0" x2="346.0" y2="242.0" stroke="#000" stroke-width="1.8"/>
<rect x="402.6" y="29.3" width="281.6" height="427.4" fill="none" stroke="#000" stroke-width="1.8"/>
<line x1="402.6" y1="242.0" x2="684.2" y2="242.0" stroke="#000" stroke-width="1.8"/>
<line x1="85.7" y1="29.3" x2="85.7" y2="33.8" stroke="#000" stroke-width="1.45"/>
<line x1="85.7" y1="242.0" x2="85.7" y2="237.5" stroke="#000" stroke-width="1.45"/>
<line x1="85.7" y1="456.7" x2="85.7" y2="452.2" stroke="#000" stroke-width="1.45"/>
<line x1="156.4" y1="29.3" x2="156.4" y2="33.8" stroke="#000" stroke-width="1.45"/>
<line x1="156.4" y1="242.0" x2="156.4" y2="237.5" stroke="#000" stroke-width="1.45"/>
<line x1="156.4" y1="456.7" x2="156.4" y2="452.2" stroke="#000" stroke-width="1.45"/>
<line x1="227.1" y1="29.3" x2="227.1" y2="33.8" stroke="#000" stroke-width="1.45"/>
<line x1="227.1" y1="242.0" x2="227.1" y2="237.5" stroke="#000" stroke-width="1.45"/>
<line x1="227.1" y1="456.7" x2="227.1" y2="452.2" stroke="#000" stroke-width="1.45"/>
<line x1="297.8" y1="29.3" x2="297.8" y2="33.8" stroke="#000" stroke-width="1.45"/>
<line x1="297.8" y1="242.0" x2="297.8" y2="237.5" stroke="#000" stroke-width="1.45"/>
<line x1="297.8" y1="456.7" x2="297.8" y2="452.2" stroke="#000" stroke-width="1.45"/>
<line x1="121.1" y1="29.3" x2="121.1" y2="31.9" stroke="#000" stroke-width="1.45"/>
<line x1="121.1" y1="242.0" x2="121.1" y2="239.4" stroke="#000" stroke-width="1.45"/>
<line x1="121.1" y1="456.7" x2="121.1" y2="454.1" stroke="#000" stroke-width="1.45"/>
<line x1="191.8" y1="29.3" x2="191.8" y2="31.9" stroke="#000" stroke-width="1.45"/>
<line x1="191.8" y1="242.0" x2="191.8" y2="239.4" stroke="#000" stroke-width="1.45"/>
<line x1="191.8" y1="456.7" x2="191.8" y2="454.1" stroke="#000" stroke-width="1.45"/>
<line x1="262.4" y1="29.3" x2="262.4" y2="31.9" stroke="#000" stroke-width="1.45"/>
<line x1="262.4" y1="242.0" x2="262.4" y2="239.4" stroke="#000" stroke-width="1.45"/>
<line x1="262.4" y1="456.7" x2="262.4" y2="454.1" stroke="#000" stroke-width="1.45"/>
<line x1="333.2" y1="29.3" x2="333.2" y2="31.9" stroke="#000" stroke-width="1.45"/>
<line x1="333.2" y1="242.0" x2="333.2" y2="239.4" stroke="#000" stroke-width="1.45"/>
<line x1="333.2" y1="456.7" x2="333.2" y2="454.1" stroke="#000" stroke-width="1.45"/>
<line x1="437.4" y1="29.3" x2="437.4" y2="33.8" stroke="#000" stroke-width="1.45"/>
<line x1="437.4" y1="242.0" x2="437.4" y2="237.5" stroke="#000" stroke-width="1.45"/>
<line x1="437.4" y1="456.7" x2="437.4" y2="452.2" stroke="#000" stroke-width="1.45"/>
<line x1="507.9" y1="29.3" x2="507.9" y2="33.8" stroke="#000" stroke-width="1.45"/>
<line x1="507.9" y1="242.0" x2="507.9" y2="237.5" stroke="#000" stroke-width="1.45"/>
<line x1="507.9" y1="456.7" x2="507.9" y2="452.2" stroke="#000" stroke-width="1.45"/>
<line x1="578.4" y1="29.3" x2="578.4" y2="33.8" stroke="#000" stroke-width="1.45"/>
<line x1="578.4" y1="242.0" x2="578.4" y2="237.5" stroke="#000" stroke-width="1.45"/>
<line x1="578.4" y1="456.7" x2="578.4" y2="452.2" stroke="#000" stroke-width="1.45"/>
<line x1="648.9" y1="29.3" x2="648.9" y2="33.8" stroke="#000" stroke-width="1.45"/>
<line x1="648.9" y1="242.0" x2="648.9" y2="237.5" stroke="#000" stroke-width="1.45"/>
<line x1="648.9" y1="456.7" x2="648.9" y2="452.2" stroke="#000" stroke-width="1.45"/>
<line x1="472.6" y1="29.3" x2="472.6" y2="31.9" stroke="#000" stroke-width="1.45"/>
<line x1="472.6" y1="242.0" x2="472.6" y2="239.4" stroke="#000" stroke-width="1.45"/>
<line x1="472.6" y1="456.7" x2="472.6" y2="454.1" stroke="#000" stroke-width="1.45"/>
<line x1="543.1" y1="29.3" x2="543.1" y2="31.9" stroke="#000" stroke-width="1.45"/>
<line x1="543.1" y1="242.0" x2="543.1" y2="239.4" stroke="#000" stroke-width="1.45"/>
<line x1="543.1" y1="456.7" x2="543.1" y2="454.1" stroke="#000" stroke-width="1.45"/>
<line x1="613.6" y1="29.3" x2="613.6" y2="31.9" stroke="#000" stroke-width="1.45"/>
<line x1="613.6" y1="242.0" x2="613.6" y2="239.4" stroke="#000" stroke-width="1.45"/>
<line x1="613.6" y1="456.7" x2="613.6" y2="454.1" stroke="#000" stroke-width="1.45"/>
<line x1="65.0" y1="66.0" x2="70.0" y2="66.0" stroke="#000" stroke-width="1.45"/>
<line x1="346.0" y1="66.0" x2="341.0" y2="66.0" stroke="#000" stroke-width="1.45"/>
<line x1="65.0" y1="135.7" x2="70.0" y2="135.7" stroke="#000" stroke-width="1.45"/>
<line x1="346.0" y1="135.7" x2="341.0" y2="135.7" stroke="#000" stroke-width="1.45"/>
<line x1="65.0" y1="205.3" x2="70.0" y2="205.3" stroke="#000" stroke-width="1.45"/>
<line x1="346.0" y1="205.3" x2="341.0" y2="205.3" stroke="#000" stroke-width="1.45"/>
<line x1="65.0" y1="101.0" x2="67.6" y2="101.0" stroke="#000" stroke-width="1.45"/>
<line x1="346.0" y1="101.0" x2="343.4" y2="101.0" stroke="#000" stroke-width="1.45"/>
<line x1="65.0" y1="170.5" x2="67.6" y2="170.5" stroke="#000" stroke-width="1.45"/>
<line x1="346.0" y1="170.5" x2="343.4" y2="170.5" stroke="#000" stroke-width="1.45"/>
<line x1="402.6" y1="66.0" x2="407.6" y2="66.0" stroke="#000" stroke-width="1.45"/>
<line x1="684.2" y1="66.0" x2="679.2" y2="66.0" stroke="#000" stroke-width="1.45"/>
<line x1="402.6" y1="135.7" x2="407.6" y2="135.7" stroke="#000" stroke-width="1.45"/>
<line x1="684.2" y1="135.7" x2="679.2" y2="135.7" stroke="#000" stroke-width="1.45"/>
<line x1="402.6" y1="205.3" x2="407.6" y2="205.3" stroke="#000" stroke-width="1.45"/>
<line x1="684.2" y1="205.3" x2="679.2" y2="205.3" stroke="#000" stroke-width="1.45"/>
<line x1="402.6" y1="101.0" x2="405.2" y2="101.0" stroke="#000" stroke-width="1.45"/>
<line x1="684.2" y1="101.0" x2="681.6" y2="101.0" stroke="#000" stroke-width="1.45"/>
<line x1="402.6" y1="170.5" x2="405.2" y2="170.5" stroke="#000" stroke-width="1.45"/>
<line x1="684.2" y1="170.5" x2="681.6" y2="170.5" stroke="#000" stroke-width="1.45"/>
<line x1="65.0" y1="295.5" x2="70.0" y2="295.5" stroke="#000" stroke-width="1.45"/>
<line x1="346.0" y1="295.5" x2="341.0" y2="295.5" stroke="#000" stroke-width="1.45"/>
<line x1="65.0" y1="349.2" x2="70.0" y2="349.2" stroke="#000" stroke-width="1.45"/>
<line x1="346.0" y1="349.2" x2="341.0" y2="349.2" stroke="#000" stroke-width="1.45"/>
<line x1="65.0" y1="402.8" x2="70.0" y2="402.8" stroke="#000" stroke-width="1.45"/>
<line x1="346.0" y1="402.8" x2="341.0" y2="402.8" stroke="#000" stroke-width="1.45"/>
<line x1="65.0" y1="268.5" x2="67.6" y2="268.5" stroke="#000" stroke-width="1.45"/>
<line x1="346.0" y1="268.5" x2="343.4" y2="268.5" stroke="#000" stroke-width="1.45"/>
<line x1="65.0" y1="322.3" x2="67.6" y2="322.3" stroke="#000" stroke-width="1.45"/>
<line x1="346.0" y1="322.3" x2="343.4" y2="322.3" stroke="#000" stroke-width="1.45"/>
<line x1="65.0" y1="376.0" x2="67.6" y2="376.0" stroke="#000" stroke-width="1.45"/>
<line x1="346.0" y1="376.0" x2="343.4" y2="376.0" stroke="#000" stroke-width="1.45"/>
<line x1="65.0" y1="429.6" x2="67.6" y2="429.6" stroke="#000" stroke-width="1.45"/>
<line x1="346.0" y1="429.6" x2="343.4" y2="429.6" stroke="#000" stroke-width="1.45"/>
<line x1="402.6" y1="257.8" x2="407.6" y2="257.8" stroke="#000" stroke-width="1.45"/>
<line x1="684.2" y1="257.8" x2="679.2" y2="257.8" stroke="#000" stroke-width="1.45"/>
<line x1="402.6" y1="309.9" x2="407.6" y2="309.9" stroke="#000" stroke-width="1.45"/>
<line x1="684.2" y1="309.9" x2="679.2" y2="309.9" stroke="#000" stroke-width="1.45"/>
<line x1="402.6" y1="361.2" x2="407.6" y2="361.2" stroke="#000" stroke-width="1.45"/>
<line x1="684.2" y1="361.2" x2="679.2" y2="361.2" stroke="#000" stroke-width="1.45"/>
<line x1="402.6" y1="412.5" x2="407.6" y2="412.5" stroke="#000" stroke-width="1.45"/>
<line x1="684.2" y1="412.5" x2="679.2" y2="412.5" stroke="#000" stroke-width="1.45"/>
<line x1="402.6" y1="283.9" x2="405.2" y2="283.9" stroke="#000" stroke-width="1.45"/>
<line x1="684.2" y1="283.9" x2="681.6" y2="283.9" stroke="#000" stroke-width="1.45"/>
<line x1="402.6" y1="335.6" x2="405.2" y2="335.6" stroke="#000" stroke-width="1.45"/>
<line x1="684.2" y1="335.6" x2="681.6" y2="335.6" stroke="#000" stroke-width="1.45"/>
<line x1="402.6" y1="386.8" x2="405.2" y2="386.8" stroke="#000" stroke-width="1.45"/>
<line x1="684.2" y1="386.8" x2="681.6" y2="386.8" stroke="#000" stroke-width="1.45"/>
<line x1="402.6" y1="438.2" x2="405.2" y2="438.2" stroke="#000" stroke-width="1.45"/>
<line x1="684.2" y1="438.2" x2="681.6" y2="438.2" stroke="#000" stroke-width="1.45"/>
<text transform="translate(62.60,68.60) scale(1.070,1)" font-size="9.8" font-weight="normal" fill="#3a3a3a" text-anchor="end">1</text>
<text transform="translate(400.00,68.60) scale(1.070,1)" font-size="9.8" font-weight="normal" fill="#3a3a3a" text-anchor="end">1</text>
<text transform="translate(62.60,138.30) scale(1.070,1)" font-size="9.8" font-weight="normal" fill="#3a3a3a" text-anchor="end">0</text>
<text transform="translate(400.00,138.30) scale(1.070,1)" font-size="9.8" font-weight="normal" fill="#3a3a3a" text-anchor="end">0</text>
<text transform="translate(62.60,207.90) scale(1.070,1)" font-size="9.8" font-weight="normal" fill="#3a3a3a" text-anchor="end">-1</text>
<text transform="translate(400.00,207.90) scale(1.070,1)" font-size="9.8" font-weight="normal" fill="#3a3a3a" text-anchor="end">-1</text>
<text transform="translate(62.90,245.70) scale(1.070,1)" font-size="10.8" font-weight="normal" fill="#3a3a3a" text-anchor="end">280</text>
<text transform="translate(62.90,299.20) scale(1.070,1)" font-size="10.8" font-weight="normal" fill="#3a3a3a" text-anchor="end">140</text>
<text transform="translate(62.90,352.90) scale(1.070,1)" font-size="10.8" font-weight="normal" fill="#3a3a3a" text-anchor="end">0</text>
<text transform="translate(62.90,406.50) scale(1.070,1)" font-size="10.8" font-weight="normal" fill="#3a3a3a" text-anchor="end">-140</text>
<text transform="translate(62.90,460.70) scale(1.070,1)" font-size="10.8" font-weight="normal" fill="#3a3a3a" text-anchor="end">-280</text>
<text transform="translate(400.50,261.50) scale(1.070,1)" font-size="10.8" font-weight="normal" fill="#3a3a3a" text-anchor="end">240</text>
<text transform="translate(400.50,313.60) scale(1.070,1)" font-size="10.8" font-weight="normal" fill="#3a3a3a" text-anchor="end">120</text>
<text transform="translate(400.50,364.90) scale(1.070,1)" font-size="10.8" font-weight="normal" fill="#3a3a3a" text-anchor="end">0</text>
<text transform="translate(400.50,416.20) scale(1.070,1)" font-size="10.8" font-weight="normal" fill="#3a3a3a" text-anchor="end">-120</text>
<text transform="translate(85.70,469.20) scale(1.070,1)" font-size="10.8" font-weight="normal" fill="#3a3a3a" text-anchor="middle">0</text>
<text transform="translate(156.40,469.20) scale(1.070,1)" font-size="10.8" font-weight="normal" fill="#3a3a3a" text-anchor="middle">25</text>
<text transform="translate(227.10,469.20) scale(1.070,1)" font-size="10.8" font-weight="normal" fill="#3a3a3a" text-anchor="middle">50</text>
<text transform="translate(297.80,469.20) scale(1.070,1)" font-size="10.8" font-weight="normal" fill="#3a3a3a" text-anchor="middle">75</text>
<text transform="translate(437.40,469.20) scale(1.070,1)" font-size="10.8" font-weight="normal" fill="#3a3a3a" text-anchor="middle">0</text>
<text transform="translate(507.90,469.20) scale(1.070,1)" font-size="10.8" font-weight="normal" fill="#3a3a3a" text-anchor="middle">35</text>
<text transform="translate(578.40,469.20) scale(1.070,1)" font-size="10.8" font-weight="normal" fill="#3a3a3a" text-anchor="middle">70</text>
<text transform="translate(648.90,469.20) scale(1.070,1)" font-size="10.8" font-weight="normal" fill="#3a3a3a" text-anchor="middle">105</text>
<text transform="translate(32.70,198.90) rotate(-90) scale(0.920,1)" font-size="22.5" font-weight="bold" fill="#000" text-anchor="start">Normalized R</text>
<text transform="translate(38.80,65.90) rotate(-90) scale(0.900,1)" font-size="14" font-weight="normal" fill="#000" text-anchor="start">H</text>
<text transform="translate(363.30,199.00) rotate(-90) scale(0.920,1)" font-size="22.5" font-weight="bold" fill="#000" text-anchor="start">Normalized R</text>
<text transform="translate(369.40,66.00) rotate(-90) scale(0.900,1)" font-size="14" font-weight="normal" fill="#000" text-anchor="start">H</text>
<text transform="translate(33.00,437.00) rotate(-90) scale(0.935,1)" font-size="22.5" font-weight="bold" fill="#000" text-anchor="start">Magnetic Field (Oe)</text>
<text transform="translate(365.00,436.60) rotate(-90) scale(0.935,1)" font-size="22.5" font-weight="bold" fill="#000" text-anchor="start">Magnetic Field (Oe)</text>
<text transform="translate(205.20,483.60) scale(0.978,1)" font-size="21.5" font-weight="bold" fill="#000" text-anchor="middle">Time (s)</text>
<text transform="translate(545.00,483.30) scale(0.920,1)" font-size="21.5" font-weight="bold" fill="#000" text-anchor="middle">Time (s)</text>
<text transform="translate(-0.80,22.50) scale(0.950,1)" font-size="32.0" font-weight="normal" fill="#000" text-anchor="start">(a)</text>
<text transform="translate(349.00,22.00) scale(1.060,1)" font-size="28.8" font-weight="normal" fill="#000" text-anchor="start">(b)</text>
<text x="89.4" y="73.3" font-size="29" font-weight="bold" fill="#6a6a6a" filter="url(#sh)">5</text>
<text transform="translate(87.90,71.60)" font-size="29" font-weight="bold" fill="#ff0000" text-anchor="start">5</text>
<text transform="translate(105.20,71.60) scale(1.060,1)" font-size="27.8" font-weight="normal" fill="#ff0000" text-anchor="start" letter-spacing="0.75">peaks</text>
<text x="425.4" y="226.7" font-size="29" font-weight="bold" fill="#6a6a6a" filter="url(#sh)">5</text>
<text transform="translate(423.90,225.00)" font-size="29" font-weight="bold" fill="#1538d8" text-anchor="start">5</text>
<text transform="translate(441.20,225.00) scale(1.060,1)" font-size="27.8" font-weight="normal" fill="#1538d8" text-anchor="start" letter-spacing="0.75">peaks</text>
</svg>
</body></html>
